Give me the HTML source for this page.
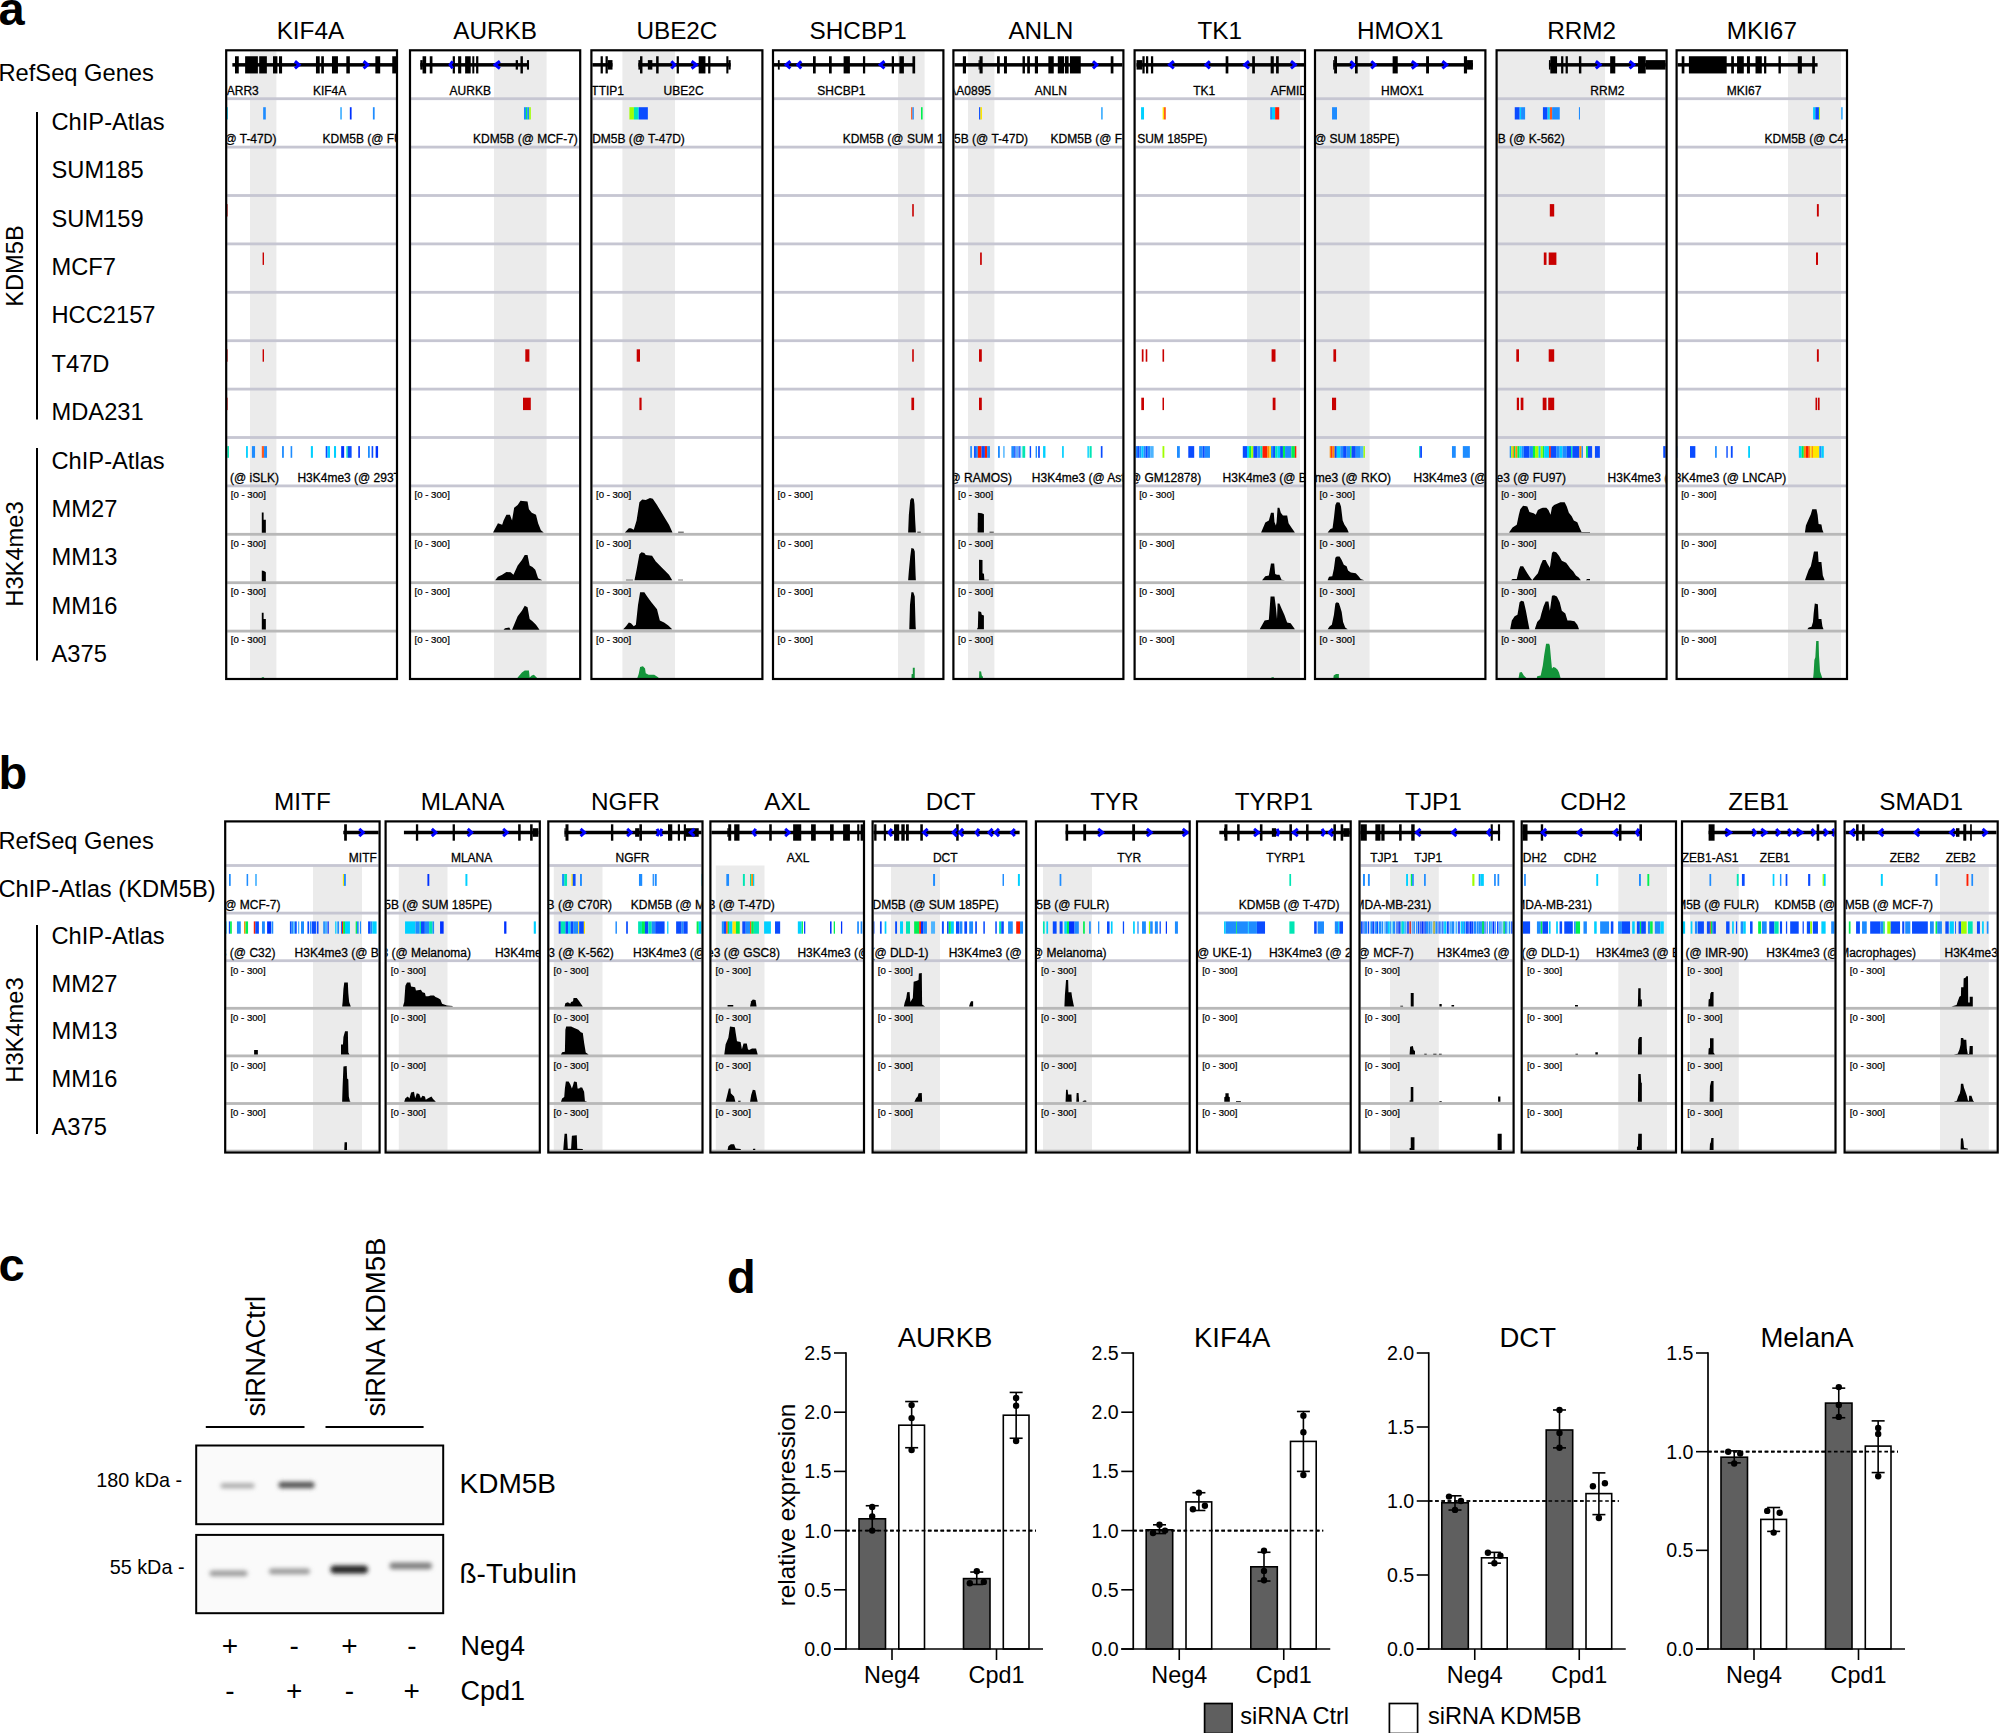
<!DOCTYPE html>
<html><head><meta charset="utf-8"><title>Figure</title><style>
html,body{margin:0;padding:0;background:#fff;}
body{width:2000px;height:1733px;overflow:hidden;}
svg{display:block;}
</style></head><body>
<svg width="2000" height="1733" viewBox="0 0 2000 1733" font-family="Liberation Sans, Arial, Helvetica, sans-serif">
<rect x="0" y="0" width="2000" height="1733" fill="#fff" />
<defs>
<clipPath id="ca0"><rect x="227.2" y="51.3" width="168.8" height="626.7"/></clipPath>
<clipPath id="ca1"><rect x="411" y="51.3" width="168.2" height="626.7"/></clipPath>
<clipPath id="ca2"><rect x="592.4" y="51.3" width="169" height="626.7"/></clipPath>
<clipPath id="ca3"><rect x="774" y="51.3" width="168.4" height="626.7"/></clipPath>
<clipPath id="ca4"><rect x="954.4" y="51.3" width="168" height="626.7"/></clipPath>
<clipPath id="ca5"><rect x="1135.6" y="51.3" width="168.4" height="626.7"/></clipPath>
<clipPath id="ca6"><rect x="1316" y="51.3" width="168.4" height="626.7"/></clipPath>
<clipPath id="ca7"><rect x="1497.6" y="51.3" width="168" height="626.7"/></clipPath>
<clipPath id="ca8"><rect x="1677.6" y="51.3" width="168.4" height="626.7"/></clipPath>
<clipPath id="cb0"><rect x="226.2" y="822.4" width="152.4" height="329.1"/></clipPath>
<clipPath id="cb1"><rect x="386.6" y="822.4" width="152.2" height="329.1"/></clipPath>
<clipPath id="cb2"><rect x="549.3" y="822.4" width="152.2" height="329.1"/></clipPath>
<clipPath id="cb3"><rect x="711.4" y="822.4" width="151.6" height="329.1"/></clipPath>
<clipPath id="cb4"><rect x="873.6" y="822.4" width="151.7" height="329.1"/></clipPath>
<clipPath id="cb5"><rect x="1036.9" y="822.4" width="151.8" height="329.1"/></clipPath>
<clipPath id="cb6"><rect x="1198" y="822.4" width="151.7" height="329.1"/></clipPath>
<clipPath id="cb7"><rect x="1360.5" y="822.4" width="152.1" height="329.1"/></clipPath>
<clipPath id="cb8"><rect x="1522.7" y="822.4" width="152.3" height="329.1"/></clipPath>
<clipPath id="cb9"><rect x="1683" y="822.4" width="151.5" height="329.1"/></clipPath>
<clipPath id="cb10"><rect x="1845.6" y="822.4" width="151.1" height="329.1"/></clipPath>
</defs>
<text x="-1.5" y="25" font-size="47" font-weight="bold" >a</text>
<text x="-1.5" y="789" font-size="47" font-weight="bold" >b</text>
<text x="-1.5" y="1281" font-size="47" font-weight="bold" >c</text>
<text x="727" y="1293" font-size="47" font-weight="bold" >d</text>
<g clip-path="url(#ca0)">
<rect x="250" y="49.3" width="26.4" height="630.7" fill="#ebebeb" />
<rect x="225.2" y="97.3" width="172.8" height="2.8" fill="#c6c6d2" />
<rect x="225.2" y="145.7" width="172.8" height="2.8" fill="#c6c6d2" />
<rect x="225.2" y="194.1" width="172.8" height="2.8" fill="#c6c6d2" />
<rect x="225.2" y="242.5" width="172.8" height="2.8" fill="#c6c6d2" />
<rect x="225.2" y="290.9" width="172.8" height="2.8" fill="#c6c6d2" />
<rect x="225.2" y="339.3" width="172.8" height="2.8" fill="#c6c6d2" />
<rect x="225.2" y="387.7" width="172.8" height="2.8" fill="#c6c6d2" />
<rect x="225.2" y="436.1" width="172.8" height="2.8" fill="#c6c6d2" />
<rect x="225.2" y="484.5" width="172.8" height="2.8" fill="#c6c6d2" />
<rect x="225.2" y="532.9" width="172.8" height="2.8" fill="#b8b8b8" />
<rect x="225.2" y="581.3" width="172.8" height="2.8" fill="#b8b8b8" />
<rect x="225.2" y="629.7" width="172.8" height="2.8" fill="#b8b8b8" />
<rect x="232.36" y="63.1" width="165.64" height="3.5" fill="#000" />
<rect x="235" y="56.25" width="3.78" height="17.2" fill="#000" />
<rect x="245.12" y="56.25" width="12.76" height="17.2" fill="#000" />
<rect x="259.2" y="56.25" width="7.66" height="17.2" fill="#000" />
<rect x="273.01" y="56.25" width="4.4" height="17.2" fill="#000" />
<rect x="279" y="56.25" width="3.08" height="17.2" fill="#000" />
<rect x="315.96" y="56.25" width="3.78" height="17.2" fill="#000" />
<rect x="321.24" y="56.25" width="2.64" height="17.2" fill="#000" />
<rect x="331.97" y="56.25" width="5.98" height="17.2" fill="#000" />
<rect x="346.32" y="56.25" width="3.52" height="17.2" fill="#000" />
<rect x="375.36" y="56.25" width="4.84" height="17.2" fill="#000" />
<rect x="392.25" y="56.25" width="4.22" height="17.2" fill="#000" />
<polyline points="294.96,61.25 299.12,64.85 294.96,68.45" fill="none" stroke="#0000ff" stroke-width="3.0" stroke-linejoin="miter"/>
<polyline points="363.6,61.25 367.76,64.85 363.6,68.45" fill="none" stroke="#0000ff" stroke-width="3.0" stroke-linejoin="miter"/>
<text x="258.76" y="95.2" font-size="12" text-anchor="end" stroke="#000" stroke-width="0.28">ARR3</text>
<text x="312.88" y="95.2" font-size="12" stroke="#000" stroke-width="0.28">KIF4A</text>
<rect x="226.2" y="107.2" width="1.76" height="12.3" fill="#00d0ff" />
<rect x="263.16" y="107.2" width="2.64" height="12.3" fill="#1e8cff" />
<rect x="340.16" y="107.2" width="1.76" height="12.3" fill="#4cb4ff" />
<rect x="349.84" y="107.2" width="1.76" height="12.3" fill="#0032ff" />
<rect x="372.89" y="107.2" width="1.76" height="12.3" fill="#1e8cff" />
<text x="276.4" y="143.3" font-size="12" text-anchor="end" stroke="#000" stroke-width="0.28">KDM5B (@ T-47D)</text>
<text x="322.6" y="143.3" font-size="12" stroke="#000" stroke-width="0.28">KDM5B (@ FULR)</text>
<rect x="226" y="204.1" width="1.7" height="12.4" fill="#c80000" />
<rect x="262.6" y="252.5" width="1.4" height="12.4" fill="#c80000" />
<rect x="226" y="349.3" width="1.7" height="12.4" fill="#c80000" />
<rect x="262.6" y="349.3" width="1.4" height="12.4" fill="#c80000" />
<rect x="226" y="397.7" width="1.7" height="12.4" fill="#c80000" />
<rect x="227.15" y="446.1" width="1.8" height="11.7" fill="#00e6b4" />
<rect x="246.05" y="446.1" width="1.8" height="11.7" fill="#00d0ff" />
<rect x="251.9" y="446.1" width="3.15" height="11.7" fill="#1e8cff" />
<rect x="261.8" y="446.1" width="2.25" height="11.7" fill="#ff5a1e" />
<rect x="264.05" y="446.1" width="2.97" height="11.7" fill="#1e8cff" />
<rect x="282.05" y="446.1" width="1.8" height="11.7" fill="#1e8cff" />
<rect x="290.6" y="446.1" width="1.62" height="11.7" fill="#1e8cff" />
<rect x="310.85" y="446.1" width="2.07" height="11.7" fill="#00d0ff" />
<rect x="325.7" y="446.1" width="1.8" height="11.7" fill="#0a4cff" />
<rect x="327.5" y="446.1" width="2.52" height="11.7" fill="#00d0ff" />
<rect x="333.98" y="446.1" width="2.07" height="11.7" fill="#00d0ff" />
<rect x="341.18" y="446.1" width="2.97" height="11.7" fill="#0032ff" />
<rect x="346.4" y="446.1" width="1.35" height="11.7" fill="#00e6b4" />
<rect x="347.75" y="446.1" width="3.87" height="11.7" fill="#0a4cff" />
<rect x="358.28" y="446.1" width="1.62" height="11.7" fill="#0032ff" />
<rect x="368" y="446.1" width="1.8" height="11.7" fill="#1e8cff" />
<rect x="371.6" y="446.1" width="1.62" height="11.7" fill="#0a4cff" />
<rect x="375.65" y="446.1" width="2.43" height="11.7" fill="#0032ff" />
<text x="278.9" y="482.3" font-size="12" text-anchor="end" stroke="#000" stroke-width="0.28">H3K4me3 (@ iSLK)</text>
<text x="297.4" y="482.3" font-size="12" stroke="#000" stroke-width="0.28">H3K4me3 (@ 293T)</text>
<text x="230.8" y="498.1" font-size="9.6" stroke="#000" stroke-width="0.22">[0 - 300]</text>
<text x="230.8" y="546.5" font-size="9.6" stroke="#000" stroke-width="0.22">[0 - 300]</text>
<text x="230.8" y="594.9" font-size="9.6" stroke="#000" stroke-width="0.22">[0 - 300]</text>
<text x="230.8" y="643.3" font-size="9.6" stroke="#000" stroke-width="0.22">[0 - 300]</text>
</g>
<g clip-path="url(#ca1)">
<rect x="494" y="49.3" width="52.6" height="630.7" fill="#ebebeb" />
<rect x="409" y="97.3" width="172.2" height="2.8" fill="#c6c6d2" />
<rect x="409" y="145.7" width="172.2" height="2.8" fill="#c6c6d2" />
<rect x="409" y="194.1" width="172.2" height="2.8" fill="#c6c6d2" />
<rect x="409" y="242.5" width="172.2" height="2.8" fill="#c6c6d2" />
<rect x="409" y="290.9" width="172.2" height="2.8" fill="#c6c6d2" />
<rect x="409" y="339.3" width="172.2" height="2.8" fill="#c6c6d2" />
<rect x="409" y="387.7" width="172.2" height="2.8" fill="#c6c6d2" />
<rect x="409" y="436.1" width="172.2" height="2.8" fill="#c6c6d2" />
<rect x="409" y="484.5" width="172.2" height="2.8" fill="#c6c6d2" />
<rect x="409" y="532.9" width="172.2" height="2.8" fill="#b8b8b8" />
<rect x="409" y="581.3" width="172.2" height="2.8" fill="#b8b8b8" />
<rect x="409" y="629.7" width="172.2" height="2.8" fill="#b8b8b8" />
<rect x="420.3" y="63.1" width="108.72" height="3.5" fill="#000" />
<rect x="420.3" y="60.1" width="2.43" height="9.5" fill="#000" />
<rect x="422.55" y="56.25" width="3.6" height="17.2" fill="#000" />
<rect x="429.75" y="56.25" width="2.7" height="17.2" fill="#000" />
<rect x="452.7" y="56.25" width="2.25" height="17.2" fill="#000" />
<rect x="458.1" y="56.25" width="3.15" height="17.2" fill="#000" />
<rect x="465.12" y="56.25" width="5.58" height="17.2" fill="#000" />
<rect x="472.32" y="56.25" width="1.98" height="17.2" fill="#000" />
<rect x="476.1" y="56.25" width="2.25" height="17.2" fill="#000" />
<rect x="515.7" y="60.1" width="2.25" height="9.5" fill="#000" />
<rect x="520.47" y="56.25" width="2.43" height="17.2" fill="#000" />
<rect x="526.95" y="60.1" width="2.07" height="9.5" fill="#000" />
<polyline points="452.6,61.25 450.1,64.85 452.6,68.45" fill="none" stroke="#0000ff" stroke-width="3.0" stroke-linejoin="miter"/>
<polyline points="499.85,61.25 495.1,64.85 499.85,68.45" fill="none" stroke="#0000ff" stroke-width="3.0" stroke-linejoin="miter"/>
<text x="449.55" y="95.2" font-size="12" stroke="#000" stroke-width="0.28">AURKB</text>
<rect x="523.98" y="107.2" width="2.07" height="12.3" fill="#1e8cff" />
<rect x="526.05" y="107.2" width="1.17" height="12.3" fill="#00f050" />
<rect x="527.22" y="107.2" width="1.98" height="12.3" fill="#1e8cff" />
<rect x="529.2" y="107.2" width="1.62" height="12.3" fill="#a0ff00" />
<text x="473" y="143.3" font-size="12" stroke="#000" stroke-width="0.28">KDM5B (@ MCF-7)</text>
<rect x="525.3" y="349.3" width="4.1" height="12.4" fill="#c80000" />
<rect x="523" y="397.7" width="7.8" height="12.4" fill="#c80000" />
<text x="414.6" y="498.1" font-size="9.6" stroke="#000" stroke-width="0.22">[0 - 300]</text>
<text x="414.6" y="546.5" font-size="9.6" stroke="#000" stroke-width="0.22">[0 - 300]</text>
<text x="414.6" y="594.9" font-size="9.6" stroke="#000" stroke-width="0.22">[0 - 300]</text>
<text x="414.6" y="643.3" font-size="9.6" stroke="#000" stroke-width="0.22">[0 - 300]</text>
</g>
<g clip-path="url(#ca2)">
<rect x="622.4" y="49.3" width="52.6" height="630.7" fill="#ebebeb" />
<rect x="590.4" y="97.3" width="173" height="2.8" fill="#c6c6d2" />
<rect x="590.4" y="145.7" width="173" height="2.8" fill="#c6c6d2" />
<rect x="590.4" y="194.1" width="173" height="2.8" fill="#c6c6d2" />
<rect x="590.4" y="242.5" width="173" height="2.8" fill="#c6c6d2" />
<rect x="590.4" y="290.9" width="173" height="2.8" fill="#c6c6d2" />
<rect x="590.4" y="339.3" width="173" height="2.8" fill="#c6c6d2" />
<rect x="590.4" y="387.7" width="173" height="2.8" fill="#c6c6d2" />
<rect x="590.4" y="436.1" width="173" height="2.8" fill="#c6c6d2" />
<rect x="590.4" y="484.5" width="173" height="2.8" fill="#c6c6d2" />
<rect x="590.4" y="532.9" width="173" height="2.8" fill="#b8b8b8" />
<rect x="590.4" y="581.3" width="173" height="2.8" fill="#b8b8b8" />
<rect x="590.4" y="629.7" width="173" height="2.8" fill="#b8b8b8" />
<rect x="590.4" y="63.1" width="22.08" height="3.5" fill="#000" />
<rect x="638.4" y="63.1" width="92.25" height="3.5" fill="#000" />
<rect x="600.6" y="56.25" width="2.25" height="17.2" fill="#000" />
<rect x="605.55" y="56.25" width="2.25" height="17.2" fill="#000" />
<rect x="607.8" y="60.1" width="4.68" height="9.5" fill="#000" />
<rect x="638.4" y="60.1" width="1.62" height="9.5" fill="#000" />
<rect x="640.02" y="56.25" width="2.43" height="17.2" fill="#000" />
<rect x="647.85" y="60.1" width="4.5" height="9.5" fill="#000" />
<rect x="656.13" y="56.25" width="2.52" height="17.2" fill="#000" />
<rect x="676.65" y="56.25" width="2.25" height="17.2" fill="#000" />
<rect x="698.7" y="56.25" width="6.75" height="17.2" fill="#000" />
<rect x="708.15" y="56.25" width="2.25" height="17.2" fill="#000" />
<rect x="726.33" y="56.25" width="2.07" height="17.2" fill="#000" />
<rect x="728.4" y="60.1" width="2.25" height="9.5" fill="#000" />
<polyline points="671.35,61.25 674.75,64.85 671.35,68.45" fill="none" stroke="#0000ff" stroke-width="3.0" stroke-linejoin="miter"/>
<polyline points="691.6,61.25 696.35,64.85 691.6,68.45" fill="none" stroke="#0000ff" stroke-width="3.0" stroke-linejoin="miter"/>
<text x="624" y="95.2" font-size="12" text-anchor="end" stroke="#000" stroke-width="0.28">DNTTIP1</text>
<text x="663.6" y="95.2" font-size="12" stroke="#000" stroke-width="0.28">UBE2C</text>
<rect x="629.4" y="107.2" width="4.5" height="12.3" fill="#a0ff00" />
<rect x="633.9" y="107.2" width="4.05" height="12.3" fill="#00e6b4" />
<rect x="637.95" y="107.2" width="0.9" height="12.3" fill="#00d0ff" />
<rect x="638.85" y="107.2" width="9" height="12.3" fill="#0a4cff" />
<text x="684.8" y="143.3" font-size="12" text-anchor="end" stroke="#000" stroke-width="0.28">KDM5B (@ T-47D)</text>
<rect x="636.7" y="349.3" width="3.3" height="12.4" fill="#c80000" />
<rect x="639.4" y="397.7" width="2.2" height="12.4" fill="#c80000" />
<text x="596" y="498.1" font-size="9.6" stroke="#000" stroke-width="0.22">[0 - 300]</text>
<text x="596" y="546.5" font-size="9.6" stroke="#000" stroke-width="0.22">[0 - 300]</text>
<text x="596" y="594.9" font-size="9.6" stroke="#000" stroke-width="0.22">[0 - 300]</text>
<text x="596" y="643.3" font-size="9.6" stroke="#000" stroke-width="0.22">[0 - 300]</text>
</g>
<g clip-path="url(#ca3)">
<rect x="898" y="49.3" width="26.6" height="630.7" fill="#ebebeb" />
<rect x="772" y="97.3" width="172.4" height="2.8" fill="#c6c6d2" />
<rect x="772" y="145.7" width="172.4" height="2.8" fill="#c6c6d2" />
<rect x="772" y="194.1" width="172.4" height="2.8" fill="#c6c6d2" />
<rect x="772" y="242.5" width="172.4" height="2.8" fill="#c6c6d2" />
<rect x="772" y="290.9" width="172.4" height="2.8" fill="#c6c6d2" />
<rect x="772" y="339.3" width="172.4" height="2.8" fill="#c6c6d2" />
<rect x="772" y="387.7" width="172.4" height="2.8" fill="#c6c6d2" />
<rect x="772" y="436.1" width="172.4" height="2.8" fill="#c6c6d2" />
<rect x="772" y="484.5" width="172.4" height="2.8" fill="#c6c6d2" />
<rect x="772" y="532.9" width="172.4" height="2.8" fill="#b8b8b8" />
<rect x="772" y="581.3" width="172.4" height="2.8" fill="#b8b8b8" />
<rect x="772" y="629.7" width="172.4" height="2.8" fill="#b8b8b8" />
<rect x="772" y="63.1" width="142.88" height="3.5" fill="#000" />
<rect x="777.9" y="60.1" width="1.8" height="9.5" fill="#000" />
<rect x="813" y="56.25" width="2.7" height="17.2" fill="#000" />
<rect x="829.02" y="56.25" width="2.7" height="17.2" fill="#000" />
<rect x="843.6" y="56.25" width="6.3" height="17.2" fill="#000" />
<rect x="862.95" y="56.25" width="2.25" height="17.2" fill="#000" />
<rect x="891.75" y="56.25" width="2.25" height="17.2" fill="#000" />
<rect x="899.4" y="56.25" width="4.5" height="17.2" fill="#000" />
<rect x="912.45" y="56.25" width="2.7" height="17.2" fill="#000" />
<polyline points="790.4,61.25 786.1,64.85 790.4,68.45" fill="none" stroke="#0000ff" stroke-width="3.0" stroke-linejoin="miter"/>
<polyline points="801.2,61.25 797.8,64.85 801.2,68.45" fill="none" stroke="#0000ff" stroke-width="3.0" stroke-linejoin="miter"/>
<polyline points="884.45,61.25 880.15,64.85 884.45,68.45" fill="none" stroke="#0000ff" stroke-width="3.0" stroke-linejoin="miter"/>
<text x="817.32" y="95.2" font-size="12" stroke="#000" stroke-width="0.28">SHCBP1</text>
<rect x="911.1" y="107.2" width="1.35" height="12.3" fill="#ff5a1e" />
<rect x="912.45" y="107.2" width="1.35" height="12.3" fill="#1e8cff" />
<rect x="921" y="107.2" width="1.62" height="12.3" fill="#00f050" />
<text x="842.7" y="143.3" font-size="12" stroke="#000" stroke-width="0.28">KDM5B (@ SUM 185PE)</text>
<rect x="912.2" y="204.1" width="1.6" height="12.4" fill="#c80000" />
<rect x="912.2" y="349.3" width="1.6" height="12.4" fill="#c80000" />
<rect x="911.4" y="397.7" width="2.7" height="12.4" fill="#c80000" />
<text x="777.6" y="498.1" font-size="9.6" stroke="#000" stroke-width="0.22">[0 - 300]</text>
<text x="777.6" y="546.5" font-size="9.6" stroke="#000" stroke-width="0.22">[0 - 300]</text>
<text x="777.6" y="594.9" font-size="9.6" stroke="#000" stroke-width="0.22">[0 - 300]</text>
<text x="777.6" y="643.3" font-size="9.6" stroke="#000" stroke-width="0.22">[0 - 300]</text>
</g>
<g clip-path="url(#ca4)">
<rect x="968" y="49.3" width="26.4" height="630.7" fill="#ebebeb" />
<rect x="952.4" y="97.3" width="172" height="2.8" fill="#c6c6d2" />
<rect x="952.4" y="145.7" width="172" height="2.8" fill="#c6c6d2" />
<rect x="952.4" y="194.1" width="172" height="2.8" fill="#c6c6d2" />
<rect x="952.4" y="242.5" width="172" height="2.8" fill="#c6c6d2" />
<rect x="952.4" y="290.9" width="172" height="2.8" fill="#c6c6d2" />
<rect x="952.4" y="339.3" width="172" height="2.8" fill="#c6c6d2" />
<rect x="952.4" y="387.7" width="172" height="2.8" fill="#c6c6d2" />
<rect x="952.4" y="436.1" width="172" height="2.8" fill="#c6c6d2" />
<rect x="952.4" y="484.5" width="172" height="2.8" fill="#c6c6d2" />
<rect x="952.4" y="532.9" width="172" height="2.8" fill="#b8b8b8" />
<rect x="952.4" y="581.3" width="172" height="2.8" fill="#b8b8b8" />
<rect x="952.4" y="629.7" width="172" height="2.8" fill="#b8b8b8" />
<rect x="952.4" y="63.1" width="172" height="3.5" fill="#000" />
<rect x="962.85" y="56.25" width="3.15" height="17.2" fill="#000" />
<rect x="978.6" y="60.1" width="1.08" height="9.5" fill="#000" />
<rect x="979.5" y="56.25" width="3.15" height="17.2" fill="#000" />
<rect x="997.05" y="56.25" width="2.7" height="17.2" fill="#000" />
<rect x="1003.98" y="56.25" width="2.97" height="17.2" fill="#000" />
<rect x="1022.52" y="56.25" width="2.43" height="17.2" fill="#000" />
<rect x="1027.2" y="56.25" width="2.7" height="17.2" fill="#000" />
<rect x="1034.85" y="56.25" width="3.15" height="17.2" fill="#000" />
<rect x="1048.35" y="56.25" width="5.4" height="17.2" fill="#000" />
<rect x="1057.8" y="56.25" width="6.3" height="17.2" fill="#000" />
<rect x="1065" y="56.25" width="3.6" height="17.2" fill="#000" />
<rect x="1069.95" y="56.25" width="10.8" height="17.2" fill="#000" />
<rect x="1110.72" y="56.25" width="2.7" height="17.2" fill="#000" />
<polyline points="1093,61.25 1096.85,64.85 1093,68.45" fill="none" stroke="#0000ff" stroke-width="3.0" stroke-linejoin="miter"/>
<text x="991.02" y="95.2" font-size="12" text-anchor="end" stroke="#000" stroke-width="0.28">KIAA0895</text>
<text x="1034.85" y="95.2" font-size="12" stroke="#000" stroke-width="0.28">ANLN</text>
<rect x="979.05" y="107.2" width="1.35" height="12.3" fill="#0a4cff" />
<rect x="980.4" y="107.2" width="1.62" height="12.3" fill="#ffe600" />
<rect x="1101" y="107.2" width="1.8" height="12.3" fill="#4cb4ff" />
<text x="1028.1" y="143.3" font-size="12" text-anchor="end" stroke="#000" stroke-width="0.28">KDM5B (@ T-47D)</text>
<text x="1050.6" y="143.3" font-size="12" stroke="#000" stroke-width="0.28">KDM5B (@ FULR)</text>
<rect x="980.1" y="252.5" width="1.7" height="12.4" fill="#c80000" />
<rect x="979" y="349.3" width="2.8" height="12.4" fill="#c80000" />
<rect x="979" y="397.7" width="2.8" height="12.4" fill="#c80000" />
<rect x="951.1" y="446.1" width="0.85" height="11.7" fill="#1e8cff" />
<rect x="970.25" y="446.1" width="1.69" height="11.7" fill="#1e8cff" />
<rect x="974.06" y="446.1" width="1.83" height="11.7" fill="#0a4cff" />
<rect x="975.89" y="446.1" width="1.97" height="11.7" fill="#1e8cff" />
<rect x="977.86" y="446.1" width="3.66" height="11.7" fill="#ff1e00" />
<rect x="981.52" y="446.1" width="3.38" height="11.7" fill="#0a4cff" />
<rect x="984.9" y="446.1" width="2.25" height="11.7" fill="#ff1e00" />
<rect x="987.15" y="446.1" width="2.82" height="11.7" fill="#1e8cff" />
<rect x="998" y="446.1" width="1.83" height="11.7" fill="#1e8cff" />
<rect x="1003.21" y="446.1" width="1.41" height="11.7" fill="#4cb4ff" />
<rect x="1011.38" y="446.1" width="2.82" height="11.7" fill="#1e8cff" />
<rect x="1014.2" y="446.1" width="1.41" height="11.7" fill="#0a4cff" />
<rect x="1016.31" y="446.1" width="1.41" height="11.7" fill="#1e8cff" />
<rect x="1018.42" y="446.1" width="1.41" height="11.7" fill="#0a4cff" />
<rect x="1020.11" y="446.1" width="1.13" height="11.7" fill="#4cb4ff" />
<rect x="1022.37" y="446.1" width="2.82" height="11.7" fill="#00e6b4" />
<rect x="1029.69" y="446.1" width="1.41" height="11.7" fill="#0a4cff" />
<rect x="1035.61" y="446.1" width="1.41" height="11.7" fill="#1e8cff" />
<rect x="1038.14" y="446.1" width="1.69" height="11.7" fill="#0a4cff" />
<rect x="1043.07" y="446.1" width="2.39" height="11.7" fill="#00d0ff" />
<rect x="1062.08" y="446.1" width="1.69" height="11.7" fill="#00d0ff" />
<rect x="1087.44" y="446.1" width="1.41" height="11.7" fill="#00d0ff" />
<rect x="1089.55" y="446.1" width="2.11" height="11.7" fill="#00e6b4" />
<rect x="1100.82" y="446.1" width="1.69" height="11.7" fill="#0a4cff" />
<text x="1012.1" y="482.3" font-size="12" text-anchor="end" stroke="#000" stroke-width="0.28">H3K4me3 (@ RAMOS)</text>
<text x="1031.8" y="482.3" font-size="12" stroke="#000" stroke-width="0.28">H3K4me3 (@ Astrocytes)</text>
<text x="958" y="498.1" font-size="9.6" stroke="#000" stroke-width="0.22">[0 - 300]</text>
<text x="958" y="546.5" font-size="9.6" stroke="#000" stroke-width="0.22">[0 - 300]</text>
<text x="958" y="594.9" font-size="9.6" stroke="#000" stroke-width="0.22">[0 - 300]</text>
<text x="958" y="643.3" font-size="9.6" stroke="#000" stroke-width="0.22">[0 - 300]</text>
</g>
<g clip-path="url(#ca5)">
<rect x="1247" y="49.3" width="53" height="630.7" fill="#ebebeb" />
<rect x="1133.6" y="97.3" width="172.4" height="2.8" fill="#c6c6d2" />
<rect x="1133.6" y="145.7" width="172.4" height="2.8" fill="#c6c6d2" />
<rect x="1133.6" y="194.1" width="172.4" height="2.8" fill="#c6c6d2" />
<rect x="1133.6" y="242.5" width="172.4" height="2.8" fill="#c6c6d2" />
<rect x="1133.6" y="290.9" width="172.4" height="2.8" fill="#c6c6d2" />
<rect x="1133.6" y="339.3" width="172.4" height="2.8" fill="#c6c6d2" />
<rect x="1133.6" y="387.7" width="172.4" height="2.8" fill="#c6c6d2" />
<rect x="1133.6" y="436.1" width="172.4" height="2.8" fill="#c6c6d2" />
<rect x="1133.6" y="484.5" width="172.4" height="2.8" fill="#c6c6d2" />
<rect x="1133.6" y="532.9" width="172.4" height="2.8" fill="#b8b8b8" />
<rect x="1133.6" y="581.3" width="172.4" height="2.8" fill="#b8b8b8" />
<rect x="1133.6" y="629.7" width="172.4" height="2.8" fill="#b8b8b8" />
<rect x="1136.55" y="63.1" width="169.45" height="3.5" fill="#000" />
<rect x="1136.55" y="60.1" width="5.85" height="9.5" fill="#000" />
<rect x="1142.4" y="56.25" width="2.25" height="17.2" fill="#000" />
<rect x="1146" y="56.25" width="2.25" height="17.2" fill="#000" />
<rect x="1150.95" y="56.25" width="2.25" height="17.2" fill="#000" />
<rect x="1225.65" y="56.25" width="2.7" height="17.2" fill="#000" />
<rect x="1252.2" y="56.25" width="2.7" height="17.2" fill="#000" />
<rect x="1270.65" y="56.25" width="3.15" height="17.2" fill="#000" />
<rect x="1276.05" y="56.25" width="2.7" height="17.2" fill="#000" />
<polyline points="1173.8,61.25 1169.5,64.85 1173.8,68.45" fill="none" stroke="#0000ff" stroke-width="3.0" stroke-linejoin="miter"/>
<polyline points="1209.8,61.25 1205.95,64.85 1209.8,68.45" fill="none" stroke="#0000ff" stroke-width="3.0" stroke-linejoin="miter"/>
<polyline points="1248.95,61.25 1244.65,64.85 1248.95,68.45" fill="none" stroke="#0000ff" stroke-width="3.0" stroke-linejoin="miter"/>
<polyline points="1291,61.25 1295.3,64.85 1291,68.45" fill="none" stroke="#0000ff" stroke-width="3.0" stroke-linejoin="miter"/>
<text x="1193.25" y="95.2" font-size="12" stroke="#000" stroke-width="0.28">TK1</text>
<text x="1270.65" y="95.2" font-size="12" stroke="#000" stroke-width="0.28">AFMID</text>
<rect x="1141.05" y="107.2" width="2.97" height="12.3" fill="#00d0ff" />
<rect x="1162.65" y="107.2" width="1.35" height="12.3" fill="#ffe600" />
<rect x="1164" y="107.2" width="1.8" height="12.3" fill="#ff5a1e" />
<rect x="1270.2" y="107.2" width="1.8" height="12.3" fill="#1e8cff" />
<rect x="1272" y="107.2" width="3.15" height="12.3" fill="#00d0ff" />
<rect x="1275.15" y="107.2" width="4.05" height="12.3" fill="#ff1e00" />
<text x="1207.2" y="143.3" font-size="12" text-anchor="end" stroke="#000" stroke-width="0.28">KDM5B (@ SUM 185PE)</text>
<rect x="1141.8" y="349.3" width="1.7" height="12.4" fill="#c80000" />
<rect x="1145.7" y="349.3" width="1.6" height="12.4" fill="#c80000" />
<rect x="1162.5" y="349.3" width="1.6" height="12.4" fill="#c80000" />
<rect x="1271.6" y="349.3" width="3.9" height="12.4" fill="#c80000" />
<rect x="1141.3" y="397.7" width="2.7" height="12.4" fill="#c80000" />
<rect x="1162.5" y="397.7" width="1.5" height="12.4" fill="#c80000" />
<rect x="1272.7" y="397.7" width="2.8" height="12.4" fill="#c80000" />
<rect x="1135.04" y="446.1" width="2.11" height="11.7" fill="#1e8cff" />
<rect x="1137.15" y="446.1" width="2.11" height="11.7" fill="#0a4cff" />
<rect x="1139.27" y="446.1" width="2.11" height="11.7" fill="#1e8cff" />
<rect x="1141.38" y="446.1" width="2.11" height="11.7" fill="#00d0ff" />
<rect x="1143.49" y="446.1" width="2.11" height="11.7" fill="#1e8cff" />
<rect x="1145.61" y="446.1" width="2.11" height="11.7" fill="#0a4cff" />
<rect x="1147.72" y="446.1" width="2.82" height="11.7" fill="#1e8cff" />
<rect x="1150.54" y="446.1" width="3.1" height="11.7" fill="#4cb4ff" />
<rect x="1162.51" y="446.1" width="1.83" height="11.7" fill="#a0ff00" />
<rect x="1177.01" y="446.1" width="2.82" height="11.7" fill="#1e8cff" />
<rect x="1188.28" y="446.1" width="5.92" height="11.7" fill="#0a4cff" />
<rect x="1199.13" y="446.1" width="3.52" height="11.7" fill="#1e8cff" />
<rect x="1202.65" y="446.1" width="2.11" height="11.7" fill="#0a4cff" />
<rect x="1204.76" y="446.1" width="5.21" height="11.7" fill="#1e8cff" />
<rect x="1242.79" y="446.1" width="4.23" height="11.7" fill="#0a4cff" />
<rect x="1247.01" y="446.1" width="2.11" height="11.7" fill="#00d0ff" />
<rect x="1249.13" y="446.1" width="2.11" height="11.7" fill="#00f050" />
<rect x="1251.24" y="446.1" width="2.11" height="11.7" fill="#a0ff00" />
<rect x="1253.35" y="446.1" width="3.94" height="11.7" fill="#0a4cff" />
<rect x="1257.3" y="446.1" width="3.1" height="11.7" fill="#1e8cff" />
<rect x="1260.39" y="446.1" width="2.11" height="11.7" fill="#00e6b4" />
<rect x="1262.51" y="446.1" width="4.93" height="11.7" fill="#ff1e00" />
<rect x="1267.44" y="446.1" width="2.11" height="11.7" fill="#ff8c00" />
<rect x="1269.55" y="446.1" width="1.41" height="11.7" fill="#ffe600" />
<rect x="1270.96" y="446.1" width="2.11" height="11.7" fill="#1e8cff" />
<rect x="1273.07" y="446.1" width="2.11" height="11.7" fill="#0a4cff" />
<rect x="1275.18" y="446.1" width="2.11" height="11.7" fill="#00e6b4" />
<rect x="1277.3" y="446.1" width="2.82" height="11.7" fill="#00d0ff" />
<rect x="1280.11" y="446.1" width="2.82" height="11.7" fill="#0a4cff" />
<rect x="1282.93" y="446.1" width="2.11" height="11.7" fill="#00f050" />
<rect x="1285.04" y="446.1" width="6.34" height="11.7" fill="#1e8cff" />
<rect x="1291.38" y="446.1" width="3.52" height="11.7" fill="#00f050" />
<rect x="1294.9" y="446.1" width="1.41" height="11.7" fill="#ff1e00" />
<text x="1201.2" y="482.3" font-size="12" text-anchor="end" stroke="#000" stroke-width="0.28">H3K4me3 (@ GM12878)</text>
<text x="1222.6" y="482.3" font-size="12" stroke="#000" stroke-width="0.28">H3K4me3 (@ BJ)</text>
<text x="1139.2" y="498.1" font-size="9.6" stroke="#000" stroke-width="0.22">[0 - 300]</text>
<text x="1139.2" y="546.5" font-size="9.6" stroke="#000" stroke-width="0.22">[0 - 300]</text>
<text x="1139.2" y="594.9" font-size="9.6" stroke="#000" stroke-width="0.22">[0 - 300]</text>
<text x="1139.2" y="643.3" font-size="9.6" stroke="#000" stroke-width="0.22">[0 - 300]</text>
</g>
<g clip-path="url(#ca6)">
<rect x="1314" y="49.3" width="55.6" height="630.7" fill="#ebebeb" />
<rect x="1314" y="97.3" width="172.4" height="2.8" fill="#c6c6d2" />
<rect x="1314" y="145.7" width="172.4" height="2.8" fill="#c6c6d2" />
<rect x="1314" y="194.1" width="172.4" height="2.8" fill="#c6c6d2" />
<rect x="1314" y="242.5" width="172.4" height="2.8" fill="#c6c6d2" />
<rect x="1314" y="290.9" width="172.4" height="2.8" fill="#c6c6d2" />
<rect x="1314" y="339.3" width="172.4" height="2.8" fill="#c6c6d2" />
<rect x="1314" y="387.7" width="172.4" height="2.8" fill="#c6c6d2" />
<rect x="1314" y="436.1" width="172.4" height="2.8" fill="#c6c6d2" />
<rect x="1314" y="484.5" width="172.4" height="2.8" fill="#c6c6d2" />
<rect x="1314" y="532.9" width="172.4" height="2.8" fill="#b8b8b8" />
<rect x="1314" y="581.3" width="172.4" height="2.8" fill="#b8b8b8" />
<rect x="1314" y="629.7" width="172.4" height="2.8" fill="#b8b8b8" />
<rect x="1333.4" y="63.1" width="139.5" height="3.5" fill="#000" />
<rect x="1333.22" y="60.1" width="1.08" height="9.5" fill="#000" />
<rect x="1334.12" y="56.25" width="2.88" height="17.2" fill="#000" />
<rect x="1355" y="56.25" width="2.7" height="17.2" fill="#000" />
<rect x="1392.62" y="56.25" width="5.13" height="17.2" fill="#000" />
<rect x="1426.1" y="56.25" width="2.88" height="17.2" fill="#000" />
<rect x="1463.9" y="56.25" width="3.15" height="17.2" fill="#000" />
<rect x="1467.05" y="60.1" width="5.85" height="9.5" fill="#000" />
<polyline points="1350.6,61.25 1354,64.85 1350.6,68.45" fill="none" stroke="#0000ff" stroke-width="3.0" stroke-linejoin="miter"/>
<polyline points="1371.3,61.25 1375.15,64.85 1371.3,68.45" fill="none" stroke="#0000ff" stroke-width="3.0" stroke-linejoin="miter"/>
<polyline points="1411.8,61.25 1416.55,64.85 1411.8,68.45" fill="none" stroke="#0000ff" stroke-width="3.0" stroke-linejoin="miter"/>
<polyline points="1442.4,61.25 1446.7,64.85 1442.4,68.45" fill="none" stroke="#0000ff" stroke-width="3.0" stroke-linejoin="miter"/>
<text x="1381.1" y="95.2" font-size="12" stroke="#000" stroke-width="0.28">HMOX1</text>
<rect x="1332.05" y="107.2" width="4.95" height="12.3" fill="#1e8cff" />
<text x="1399.6" y="143.3" font-size="12" text-anchor="end" stroke="#000" stroke-width="0.28">KDM5B (@ SUM 185PE)</text>
<rect x="1333.4" y="349.3" width="2.7" height="12.4" fill="#c80000" />
<rect x="1332" y="397.7" width="4.1" height="12.4" fill="#c80000" />
<rect x="1329.72" y="446.1" width="1.41" height="11.7" fill="#ff8c00" />
<rect x="1331.13" y="446.1" width="1.41" height="11.7" fill="#ff1e00" />
<rect x="1332.54" y="446.1" width="2.11" height="11.7" fill="#ff8c00" />
<rect x="1334.65" y="446.1" width="2.11" height="11.7" fill="#0a4cff" />
<rect x="1336.76" y="446.1" width="3.52" height="11.7" fill="#00d0ff" />
<rect x="1340.28" y="446.1" width="2.82" height="11.7" fill="#1e8cff" />
<rect x="1343.1" y="446.1" width="3.52" height="11.7" fill="#0a4cff" />
<rect x="1346.62" y="446.1" width="3.52" height="11.7" fill="#1e8cff" />
<rect x="1350.14" y="446.1" width="1.41" height="11.7" fill="#00f050" />
<rect x="1351.55" y="446.1" width="4.23" height="11.7" fill="#0a4cff" />
<rect x="1355.77" y="446.1" width="4.93" height="11.7" fill="#1e8cff" />
<rect x="1360.7" y="446.1" width="2.82" height="11.7" fill="#4cb4ff" />
<rect x="1363.52" y="446.1" width="1.41" height="11.7" fill="#a0ff00" />
<rect x="1419.15" y="446.1" width="0.99" height="11.7" fill="#00e6b4" />
<rect x="1420.14" y="446.1" width="1.83" height="11.7" fill="#0a4cff" />
<rect x="1451.97" y="446.1" width="3.8" height="11.7" fill="#1e8cff" />
<rect x="1462.82" y="446.1" width="7.04" height="11.7" fill="#1e8cff" />
<text x="1391" y="482.3" font-size="12" text-anchor="end" stroke="#000" stroke-width="0.28">H3K4me3 (@ RKO)</text>
<text x="1413.5" y="482.3" font-size="12" stroke="#000" stroke-width="0.28">H3K4me3 (@ Erythroblast)</text>
<text x="1319.6" y="498.1" font-size="9.6" stroke="#000" stroke-width="0.22">[0 - 300]</text>
<text x="1319.6" y="546.5" font-size="9.6" stroke="#000" stroke-width="0.22">[0 - 300]</text>
<text x="1319.6" y="594.9" font-size="9.6" stroke="#000" stroke-width="0.22">[0 - 300]</text>
<text x="1319.6" y="643.3" font-size="9.6" stroke="#000" stroke-width="0.22">[0 - 300]</text>
</g>
<g clip-path="url(#ca7)">
<rect x="1496" y="49.3" width="109" height="630.7" fill="#ebebeb" />
<rect x="1495.6" y="97.3" width="172" height="2.8" fill="#c6c6d2" />
<rect x="1495.6" y="145.7" width="172" height="2.8" fill="#c6c6d2" />
<rect x="1495.6" y="194.1" width="172" height="2.8" fill="#c6c6d2" />
<rect x="1495.6" y="242.5" width="172" height="2.8" fill="#c6c6d2" />
<rect x="1495.6" y="290.9" width="172" height="2.8" fill="#c6c6d2" />
<rect x="1495.6" y="339.3" width="172" height="2.8" fill="#c6c6d2" />
<rect x="1495.6" y="387.7" width="172" height="2.8" fill="#c6c6d2" />
<rect x="1495.6" y="436.1" width="172" height="2.8" fill="#c6c6d2" />
<rect x="1495.6" y="484.5" width="172" height="2.8" fill="#c6c6d2" />
<rect x="1495.6" y="532.9" width="172" height="2.8" fill="#b8b8b8" />
<rect x="1495.6" y="581.3" width="172" height="2.8" fill="#b8b8b8" />
<rect x="1495.6" y="629.7" width="172" height="2.8" fill="#b8b8b8" />
<rect x="1548.95" y="63.1" width="118.65" height="3.5" fill="#000" />
<rect x="1548.95" y="60.1" width="1.53" height="9.5" fill="#000" />
<rect x="1550.3" y="56.25" width="6.75" height="17.2" fill="#000" />
<rect x="1561.1" y="56.25" width="2.25" height="17.2" fill="#000" />
<rect x="1565.6" y="56.25" width="2.25" height="17.2" fill="#000" />
<rect x="1578.92" y="56.25" width="2.43" height="17.2" fill="#000" />
<rect x="1610.15" y="56.25" width="5.13" height="17.2" fill="#000" />
<rect x="1638.05" y="56.25" width="7.65" height="17.2" fill="#000" />
<rect x="1645.7" y="60.1" width="20.7" height="9.5" fill="#000" />
<polyline points="1595.85,61.25 1600.15,64.85 1595.85,68.45" fill="none" stroke="#0000ff" stroke-width="3.0" stroke-linejoin="miter"/>
<polyline points="1629.6,61.25 1633.9,64.85 1629.6,68.45" fill="none" stroke="#0000ff" stroke-width="3.0" stroke-linejoin="miter"/>
<text x="1590.35" y="95.2" font-size="12" stroke="#000" stroke-width="0.28">RRM2</text>
<rect x="1514.75" y="107.2" width="4.95" height="12.3" fill="#0a4cff" />
<rect x="1519.7" y="107.2" width="1.35" height="12.3" fill="#00d0ff" />
<rect x="1521.05" y="107.2" width="4.05" height="12.3" fill="#1e8cff" />
<rect x="1542.92" y="107.2" width="4.68" height="12.3" fill="#0a4cff" />
<rect x="1547.6" y="107.2" width="2.25" height="12.3" fill="#00d0ff" />
<rect x="1549.85" y="107.2" width="2.25" height="12.3" fill="#ff5a1e" />
<rect x="1552.1" y="107.2" width="7.65" height="12.3" fill="#1e8cff" />
<rect x="1578.92" y="107.2" width="1.08" height="12.3" fill="#1e8cff" />
<text x="1564.7" y="143.3" font-size="12" text-anchor="end" stroke="#000" stroke-width="0.28">KDM5B (@ K-562)</text>
<rect x="1549.8" y="204.1" width="4.4" height="12.4" fill="#c80000" />
<rect x="1543.8" y="252.5" width="2.7" height="12.4" fill="#c80000" />
<rect x="1548.7" y="252.5" width="7.7" height="12.4" fill="#c80000" />
<rect x="1516.3" y="349.3" width="2.7" height="12.4" fill="#c80000" />
<rect x="1548.7" y="349.3" width="5.5" height="12.4" fill="#c80000" />
<rect x="1516.8" y="397.7" width="2.2" height="12.4" fill="#c80000" />
<rect x="1520.7" y="397.7" width="2.7" height="12.4" fill="#c80000" />
<rect x="1542.7" y="397.7" width="3.8" height="12.4" fill="#c80000" />
<rect x="1548.2" y="397.7" width="6" height="12.4" fill="#c80000" />
<rect x="1509.72" y="446.1" width="1.41" height="11.7" fill="#1e8cff" />
<rect x="1511.13" y="446.1" width="1.41" height="11.7" fill="#a0ff00" />
<rect x="1512.54" y="446.1" width="1.41" height="11.7" fill="#ff8c00" />
<rect x="1513.94" y="446.1" width="1.41" height="11.7" fill="#00f050" />
<rect x="1515.35" y="446.1" width="2.11" height="11.7" fill="#ff8c00" />
<rect x="1517.46" y="446.1" width="2.11" height="11.7" fill="#00f050" />
<rect x="1519.58" y="446.1" width="2.11" height="11.7" fill="#00d0ff" />
<rect x="1521.69" y="446.1" width="2.11" height="11.7" fill="#1e8cff" />
<rect x="1523.8" y="446.1" width="5.63" height="11.7" fill="#0a4cff" />
<rect x="1529.44" y="446.1" width="3.52" height="11.7" fill="#1e8cff" />
<rect x="1532.96" y="446.1" width="2.11" height="11.7" fill="#00f050" />
<rect x="1535.07" y="446.1" width="3.52" height="11.7" fill="#a0ff00" />
<rect x="1538.59" y="446.1" width="2.11" height="11.7" fill="#00d0ff" />
<rect x="1540.7" y="446.1" width="2.11" height="11.7" fill="#a0ff00" />
<rect x="1542.82" y="446.1" width="1.41" height="11.7" fill="#00f050" />
<rect x="1544.23" y="446.1" width="4.93" height="11.7" fill="#00d0ff" />
<rect x="1549.15" y="446.1" width="1.69" height="11.7" fill="#ff1e00" />
<rect x="1550.85" y="446.1" width="5.35" height="11.7" fill="#0a4cff" />
<rect x="1556.2" y="446.1" width="3.52" height="11.7" fill="#1e8cff" />
<rect x="1559.72" y="446.1" width="2.82" height="11.7" fill="#00d0ff" />
<rect x="1562.54" y="446.1" width="4.23" height="11.7" fill="#1e8cff" />
<rect x="1566.76" y="446.1" width="4.23" height="11.7" fill="#0a4cff" />
<rect x="1570.99" y="446.1" width="1.41" height="11.7" fill="#00e6b4" />
<rect x="1572.39" y="446.1" width="7.04" height="11.7" fill="#0a4cff" />
<rect x="1579.44" y="446.1" width="2.11" height="11.7" fill="#ff8c00" />
<rect x="1581.55" y="446.1" width="1.41" height="11.7" fill="#1e8cff" />
<rect x="1586.06" y="446.1" width="1.83" height="11.7" fill="#00f050" />
<rect x="1587.89" y="446.1" width="4.23" height="11.7" fill="#0a4cff" />
<rect x="1594.93" y="446.1" width="4.93" height="11.7" fill="#0a4cff" />
<rect x="1663.24" y="446.1" width="2.82" height="11.7" fill="#0a4cff" />
<text x="1566" y="482.3" font-size="12" text-anchor="end" stroke="#000" stroke-width="0.28">H3K4me3 (@ FU97)</text>
<text x="1607.6" y="482.3" font-size="12" stroke="#000" stroke-width="0.28">H3K4me3 (@ HeLa)</text>
<text x="1501.2" y="498.1" font-size="9.6" stroke="#000" stroke-width="0.22">[0 - 300]</text>
<text x="1501.2" y="546.5" font-size="9.6" stroke="#000" stroke-width="0.22">[0 - 300]</text>
<text x="1501.2" y="594.9" font-size="9.6" stroke="#000" stroke-width="0.22">[0 - 300]</text>
<text x="1501.2" y="643.3" font-size="9.6" stroke="#000" stroke-width="0.22">[0 - 300]</text>
</g>
<g clip-path="url(#ca8)">
<rect x="1788" y="49.3" width="53" height="630.7" fill="#ebebeb" />
<rect x="1675.6" y="97.3" width="172.4" height="2.8" fill="#c6c6d2" />
<rect x="1675.6" y="145.7" width="172.4" height="2.8" fill="#c6c6d2" />
<rect x="1675.6" y="194.1" width="172.4" height="2.8" fill="#c6c6d2" />
<rect x="1675.6" y="242.5" width="172.4" height="2.8" fill="#c6c6d2" />
<rect x="1675.6" y="290.9" width="172.4" height="2.8" fill="#c6c6d2" />
<rect x="1675.6" y="339.3" width="172.4" height="2.8" fill="#c6c6d2" />
<rect x="1675.6" y="387.7" width="172.4" height="2.8" fill="#c6c6d2" />
<rect x="1675.6" y="436.1" width="172.4" height="2.8" fill="#c6c6d2" />
<rect x="1675.6" y="484.5" width="172.4" height="2.8" fill="#c6c6d2" />
<rect x="1675.6" y="532.9" width="172.4" height="2.8" fill="#b8b8b8" />
<rect x="1675.6" y="581.3" width="172.4" height="2.8" fill="#b8b8b8" />
<rect x="1675.6" y="629.7" width="172.4" height="2.8" fill="#b8b8b8" />
<rect x="1675.6" y="63.1" width="142" height="3.5" fill="#000" />
<rect x="1681.7" y="56.25" width="2.7" height="17.2" fill="#000" />
<rect x="1688.9" y="56.25" width="37.8" height="17.2" fill="#000" />
<rect x="1731.2" y="56.25" width="2.7" height="17.2" fill="#000" />
<rect x="1737.05" y="56.25" width="6.75" height="17.2" fill="#000" />
<rect x="1746.95" y="56.25" width="2.97" height="17.2" fill="#000" />
<rect x="1755.5" y="56.25" width="6.3" height="17.2" fill="#000" />
<rect x="1764.05" y="56.25" width="2.25" height="17.2" fill="#000" />
<rect x="1778.45" y="56.25" width="2.43" height="17.2" fill="#000" />
<rect x="1797.8" y="56.25" width="4.05" height="17.2" fill="#000" />
<rect x="1812.2" y="56.25" width="2.7" height="17.2" fill="#000" />
<text x="1726.7" y="95.2" font-size="12" stroke="#000" stroke-width="0.28">MKI67</text>
<rect x="1813.1" y="107.2" width="2.25" height="12.3" fill="#00d0ff" />
<rect x="1815.35" y="107.2" width="3.6" height="12.3" fill="#0a4cff" />
<rect x="1818.95" y="107.2" width="0.9" height="12.3" fill="#a0ff00" />
<rect x="1841" y="107.2" width="1.8" height="12.3" fill="#4cb4ff" />
<text x="1764.5" y="143.3" font-size="12" stroke="#000" stroke-width="0.28">KDM5B (@ C4-2B)</text>
<rect x="1816.9" y="204.1" width="1.9" height="12.4" fill="#c80000" />
<rect x="1816" y="252.5" width="2" height="12.4" fill="#c80000" />
<rect x="1816.9" y="349.3" width="1.9" height="12.4" fill="#c80000" />
<rect x="1815.5" y="397.7" width="1.7" height="12.4" fill="#c80000" />
<rect x="1818" y="397.7" width="1.6" height="12.4" fill="#c80000" />
<rect x="1676.34" y="446.1" width="1.41" height="11.7" fill="#1e8cff" />
<rect x="1690" y="446.1" width="5.35" height="11.7" fill="#0a4cff" />
<rect x="1715.07" y="446.1" width="1.69" height="11.7" fill="#1e8cff" />
<rect x="1726.34" y="446.1" width="1.41" height="11.7" fill="#0a4cff" />
<rect x="1730.85" y="446.1" width="1.83" height="11.7" fill="#0a4cff" />
<rect x="1748.17" y="446.1" width="1.83" height="11.7" fill="#00d0ff" />
<rect x="1798.87" y="446.1" width="2.82" height="11.7" fill="#00d0ff" />
<rect x="1801.69" y="446.1" width="2.11" height="11.7" fill="#00f050" />
<rect x="1803.8" y="446.1" width="2.11" height="11.7" fill="#ff8c00" />
<rect x="1805.92" y="446.1" width="2.82" height="11.7" fill="#ff1e00" />
<rect x="1808.73" y="446.1" width="1.41" height="11.7" fill="#ff8c00" />
<rect x="1810.14" y="446.1" width="1.41" height="11.7" fill="#ffe600" />
<rect x="1811.55" y="446.1" width="1.41" height="11.7" fill="#ff8c00" />
<rect x="1812.96" y="446.1" width="6.34" height="11.7" fill="#ffe600" />
<rect x="1819.3" y="446.1" width="2.11" height="11.7" fill="#1e8cff" />
<rect x="1821.41" y="446.1" width="2.39" height="11.7" fill="#00d0ff" />
<text x="1786.2" y="482.3" font-size="12" text-anchor="end" stroke="#000" stroke-width="0.28">H3K4me3 (@ LNCAP)</text>
<text x="1681.2" y="498.1" font-size="9.6" stroke="#000" stroke-width="0.22">[0 - 300]</text>
<text x="1681.2" y="546.5" font-size="9.6" stroke="#000" stroke-width="0.22">[0 - 300]</text>
<text x="1681.2" y="594.9" font-size="9.6" stroke="#000" stroke-width="0.22">[0 - 300]</text>
<text x="1681.2" y="643.3" font-size="9.6" stroke="#000" stroke-width="0.22">[0 - 300]</text>
</g>
<g clip-path="url(#ca0)">
</g>
<g clip-path="url(#ca0)">
<polygon points="261.8,532.75 261.8,512.5 263.6,512.5 263.6,519.7 265.85,519.7 265.85,532.75" fill="#000"/>
<polygon points="261.8,581.3 261.8,570.5 264.05,570.95 265.85,572.3 265.85,581.3" fill="#000"/>
<polygon points="261.8,629.45 261.8,612.8 263.6,612.8 263.6,619.1 265.85,619.1 265.85,629.45" fill="#000"/>
<polygon points="261.62,678.5 261.8,677.24 264.05,677.24 264.23,678.5" fill="#13943a"/>
</g>
<g clip-path="url(#ca1)">
<polygon points="493.03,532.48 497.96,523.32 502.18,524.73 503.59,520.51 506.41,514.87 509.93,514.87 512.04,520.51 514.15,507.83 517.68,505.01 520.49,500.79 527.54,501.49 528.94,509.24 531.76,512.76 535.99,514.87 538.1,523.32 540.92,530.37 543.73,532.48" fill="#000"/>
<polygon points="495.14,580.37 497.96,576.85 502.18,574.73 506.41,571.92 510.63,572.34 513.45,574.73 517.68,565.58 521.9,559.94 524.72,555.01 527.54,555.01 529.65,565.58 532.46,566.99 535.28,569.8 538.1,578.25 542.32,580.37" fill="#000"/>
<polygon points="503.59,629.66 505,628.25 509.23,627.55 510.63,629.66" fill="#000"/>
<polygon points="512.04,629.66 517.68,616.28 521.9,610.65 524.72,605.72 527.54,607.13 529.65,619.1 532.46,621.21 535.99,624.73 539.51,629.66" fill="#000"/>
<polygon points="516.97,680.08 517.68,677.55 521.9,672.62 524.72,670.51 528.94,670.51 529.65,677.55 531.76,675.44 533.87,674.73 537.39,678.25 538.1,680.08" fill="#13943a"/>
</g>
<g clip-path="url(#ca2)">
<polygon points="624.9,532.48 628.85,528.25 630.96,528.25 633.77,529.66 636.59,520.51 639.41,502.2 642.23,499.38 645.75,500.08 649.97,497.97 652.79,498.68 657.01,505.01 661.24,512.06 665.46,519.1 668.99,524.73 672.51,532.48" fill="#000"/>
<polygon points="678.14,532.48 678.14,531.77 683.77,531.77 683.77,532.48" fill="#000"/>
<polygon points="634.48,580.37 636.59,569.8 639.41,554.31 641.52,552.2 644.34,552.9 645.75,555.01 652.08,555.72 655.61,561.35 661.24,566.99 664.76,570.51 668.99,574.73 672.23,580.37" fill="#000"/>
<polygon points="626.03,580.37 626.03,579.66 633.07,579.66 633.07,580.37" fill="#000"/>
<polygon points="678.14,580.37 678.14,579.66 683.07,579.66 683.07,580.37" fill="#000"/>
<polygon points="623.21,629.24 626.03,626.14 628.85,622.62 630.96,623.32 633.77,626.14 635.89,624.73 638,605.01 640.11,592.34 644.34,592.34 647.15,596.56 651.38,602.2 657.01,609.24 659.83,620.51 664.06,622.62 668.28,625.44 672.23,629.24" fill="#000"/>
<polygon points="636.59,680.08 638.7,674.03 640.11,666.99 642.93,666.28 645.04,668.39 645.75,673.32 648.56,674.73 654.2,674.73 658.42,677.55 659.13,680.08" fill="#13943a"/>
</g>
<g clip-path="url(#ca3)">
<polygon points="908.14,532.48 908.85,514.87 910.25,500.08 911.66,497.97 913.77,498.68 914.48,504.31 915.18,520.51 915.89,532.48" fill="#000"/>
<polygon points="917.3,532.48 917.3,531.77 920.82,531.77 920.82,532.48" fill="#000"/>
<polygon points="908.14,580.37 908.85,571.21 910.25,556.42 911.38,547.97 913.77,548.68 914.76,551.49 915.61,575.44 915.89,580.37" fill="#000"/>
<polygon points="909.27,629.24 909.97,605.01 911.38,592.34 913.35,592.34 914.76,596.56 915.61,626.14 915.89,629.24" fill="#000"/>
<polygon points="911.38,680.08 911.66,674.03 912.79,674.03 912.79,667.69 914.76,667.69 914.76,680.08" fill="#13943a"/>
</g>
<g clip-path="url(#ca4)">
<polygon points="977.58,532.48 977.86,512.76 981.8,513.18 983.92,514.17 983.92,532.48" fill="#000"/>
<polygon points="989.55,532.48 989.55,531.77 993.77,531.77 993.77,532.48" fill="#000"/>
<polygon points="978.99,580.37 978.99,559.66 982.51,559.94 982.51,573.32 983.92,573.75 984.34,579.66 988.85,579.66 988.85,580.37" fill="#000"/>
<polygon points="976.87,629.24 977.86,627.55 978.28,611.35 981.1,612.06 981.8,614.87 983.92,615.58 983.92,629.24" fill="#000"/>
<polygon points="978.99,680.08 979.27,671.21 981.1,671.49 981.8,675.44 982.93,676.85 982.93,680.08" fill="#13943a"/>
</g>
<g clip-path="url(#ca5)">
<polygon points="1261.1,532.48 1265.32,522.62 1268.85,520.51 1270.96,512.76 1273.77,512.76 1274.48,521.92 1275.89,525.44 1276.59,521.92 1277.58,507.83 1279.41,507.83 1280.82,512.76 1282.93,515.58 1287.15,515.58 1288.56,523.32 1291.38,527.55 1294.9,532.48" fill="#000"/>
<polygon points="1262.08,580.37 1265.32,576.14 1268.85,575.44 1270.96,563.46 1274.2,563.46 1275.18,574.03 1277.01,574.73 1279.41,574.73 1281.52,579.66 1285.04,580.37" fill="#000"/>
<polygon points="1259.69,629.24 1264.62,620.51 1268.85,619.8 1270.54,596.56 1274.48,596.56 1275.89,607.13 1277.01,619.1 1277.58,603.61 1279.41,603.61 1281.52,608.54 1284.34,614.87 1287.15,622.62 1290.68,623.32 1294.9,629.24" fill="#000"/>
<polygon points="1270.25,680.08 1271.66,677.13 1273.77,677.13 1274.48,680.08" fill="#13943a"/>
<polygon points="1279.41,680.08 1279.83,678.25 1282.23,678.25 1282.23,680.08" fill="#13943a"/>
</g>
<g clip-path="url(#ca6)">
<polygon points="1327.61,532.48 1330.42,528.96 1332.54,528.25 1333.94,517.69 1335.35,505.01 1336.76,502.2 1339.58,502.48 1340.99,506.42 1342.68,520.51 1344.51,524.73 1346.9,528.25 1348.73,532.48" fill="#000"/>
<polygon points="1327.61,580.37 1329.01,576.85 1332.25,576.14 1333.94,568.39 1335.35,557.83 1336.76,556.42 1339.58,556.42 1341.69,559.94 1343.8,564.87 1346.62,566.28 1348.03,570.51 1350.85,572.62 1355.77,573.32 1358.59,576.14 1360.7,578.96 1364.23,580.37" fill="#000"/>
<polygon points="1327.61,629.24 1329.72,626.14 1331.83,624.73 1333.94,614.87 1335.35,603.61 1336.76,602.2 1338.87,602.9 1340.28,607.13 1341.69,612.06 1343.1,621.92 1345.21,627.55 1347.75,629.24" fill="#000"/>
<polygon points="1333.24,680.08 1333.66,675.44 1336.06,674.03 1338.87,674.03 1338.87,680.08" fill="#13943a"/>
</g>
<g clip-path="url(#ca7)">
<polygon points="1509.01,532.48 1512.54,527.55 1516.76,524.73 1518.87,514.87 1520.28,509.24 1523.1,505.72 1527.32,506.42 1529.44,512.06 1533.66,513.18 1535.77,514.87 1537.89,509.94 1540.7,508.54 1542.82,507.83 1546.34,507.83 1548.45,509.94 1550.56,514.87 1551.97,507.13 1554.08,505.01 1557.61,503.61 1560.42,502.2 1564.65,502.2 1566.76,506.42 1568.87,512.76 1571.69,516.28 1573.8,520.51 1577.32,522.2 1579.44,527.55 1581.55,532.06 1590,532.06 1590,532.48" fill="#000"/>
<polygon points="1511.13,580.37 1512.54,578.96 1516.76,578.96 1518.87,569.8 1520.28,566.28 1523.1,566.28 1525.21,569.8 1527.32,573.32 1530.14,577.55 1532.25,580.37 1533.66,578.25 1537.89,573.32 1540.7,564.87 1542.82,559.94 1545.63,559.94 1547.75,564.17 1549.86,567.69 1551.97,552.9 1553.38,551.49 1556.2,552.2 1559.01,555.72 1561.83,560.65 1566.06,562.76 1568.17,565.58 1570.28,568.39 1573.1,571.21 1575.92,575.44 1578.73,577.55 1580.85,580.37" fill="#000"/>
<polygon points="1585.77,580.37 1587.18,578.96 1590,578.96 1590,580.37" fill="#000"/>
<polygon points="1510.14,629.24 1511.83,620.51 1514.65,616.28 1517.46,614.87 1519.58,602.2 1521.27,600.79 1523.8,601.49 1525.92,610.65 1528.03,621.92 1529.44,629.24" fill="#000"/>
<polygon points="1534.79,629.24 1537.18,621.92 1540,619.1 1541.41,613.46 1543.52,606.42 1545.63,601.49 1548.45,601.49 1549.86,610.65 1551.97,595.86 1554.08,595.15 1556.9,596.56 1559.72,602.2 1561.83,610.65 1565.35,613.46 1567.46,620.51 1570.28,620.51 1574.51,621.21 1577.32,624.73 1579.01,629.24" fill="#000"/>
<polygon points="1518.17,680.08 1519.58,672.62 1521.69,671.92 1523.8,675.44 1526.62,678.25 1526.9,680.08" fill="#13943a"/>
<polygon points="1536.48,680.08 1537.18,676.14 1540.7,675.44 1542.82,665.58 1544.23,655.01 1546.06,643.75 1549.15,643.75 1549.86,645.86 1551.27,661.35 1551.97,668.39 1553.38,666.99 1555.49,667.69 1557.61,669.8 1559.01,672.62 1560.42,677.55 1561.13,680.08" fill="#13943a"/>
<polygon points="1571.69,680.08 1571.97,677.97 1574.51,677.97 1574.51,680.08" fill="#13943a"/>
</g>
<g clip-path="url(#ca8)">
<polygon points="1804.93,532.48 1805.92,525.44 1808.73,519.1 1810.85,514.17 1812.25,509.24 1816.48,509.24 1817.61,514.87 1818.59,524.03 1821.41,524.45 1822.39,529.66 1823.52,532.48" fill="#000"/>
<polygon points="1804.93,580.37 1806.62,575.44 1808.73,569.8 1810.85,566.28 1812.54,558.54 1813.94,551.49 1817.89,551.49 1818.59,562.06 1821.41,562.06 1822.82,575.44 1824.65,580.37" fill="#000"/>
<polygon points="1807.32,629.24 1808.73,627.55 1811.55,626.85 1812.96,621.92 1813.66,613.46 1814.79,603.61 1817.89,604.31 1818.59,619.1 1821.41,619.1 1822.39,626.14 1823.52,629.24" fill="#000"/>
<polygon points="1812.96,680.08 1813.66,672.62 1814.37,659.94 1815.35,657.13 1816.2,640.93 1818.59,640.93 1819.01,655.72 1819.3,659.94 1820,671.21 1822.11,677.55 1822.39,680.08" fill="#13943a"/>
</g>
<rect x="226.2" y="50.3" width="170.8" height="628.7" fill="none" stroke="#000" stroke-width="2.2"/>
<text x="310.4" y="38.8" font-size="24.3" text-anchor="middle" >KIF4A</text>
<rect x="410" y="50.3" width="170.2" height="628.7" fill="none" stroke="#000" stroke-width="2.2"/>
<text x="495.1" y="38.8" font-size="24.3" text-anchor="middle" >AURKB</text>
<rect x="591.4" y="50.3" width="171" height="628.7" fill="none" stroke="#000" stroke-width="2.2"/>
<text x="676.9" y="38.8" font-size="24.3" text-anchor="middle" >UBE2C</text>
<rect x="773" y="50.3" width="170.4" height="628.7" fill="none" stroke="#000" stroke-width="2.2"/>
<text x="858.2" y="38.8" font-size="24.3" text-anchor="middle" >SHCBP1</text>
<rect x="953.4" y="50.3" width="170" height="628.7" fill="none" stroke="#000" stroke-width="2.2"/>
<text x="1040.8" y="38.8" font-size="24.3" text-anchor="middle" >ANLN</text>
<rect x="1134.6" y="50.3" width="170.4" height="628.7" fill="none" stroke="#000" stroke-width="2.2"/>
<text x="1219.8" y="38.8" font-size="24.3" text-anchor="middle" >TK1</text>
<rect x="1315" y="50.3" width="170.4" height="628.7" fill="none" stroke="#000" stroke-width="2.2"/>
<text x="1400.2" y="38.8" font-size="24.3" text-anchor="middle" >HMOX1</text>
<rect x="1496.6" y="50.3" width="170" height="628.7" fill="none" stroke="#000" stroke-width="2.2"/>
<text x="1581.6" y="38.8" font-size="24.3" text-anchor="middle" >RRM2</text>
<rect x="1676.6" y="50.3" width="170.4" height="628.7" fill="none" stroke="#000" stroke-width="2.2"/>
<text x="1761.8" y="38.8" font-size="24.3" text-anchor="middle" >MKI67</text>
<g clip-path="url(#cb0)">
<rect x="313" y="865.5" width="49" height="288" fill="#ebebeb" />
<rect x="224.2" y="864.1" width="156.4" height="2.8" fill="#c6c6d2" />
<rect x="224.2" y="911.7" width="156.4" height="2.8" fill="#c6c6d2" />
<rect x="224.2" y="959.3" width="156.4" height="2.8" fill="#c6c6d2" />
<rect x="224.2" y="1006.9" width="156.4" height="2.8" fill="#b8b8b8" />
<rect x="224.2" y="1054.5" width="156.4" height="2.8" fill="#b8b8b8" />
<rect x="224.2" y="1102.1" width="156.4" height="2.8" fill="#b8b8b8" />
<rect x="224.2" y="1149.7" width="156.4" height="2.8" fill="#b8b8b8" />
<rect x="343.29" y="830.75" width="37.31" height="3.5" fill="#000" />
<rect x="344.15" y="824.3" width="2.73" height="16.4" fill="#000" />
<polyline points="359.24,828.9 363.22,832.5 359.24,836.1" fill="none" stroke="#0000ff" stroke-width="3.0" stroke-linejoin="miter"/>
<text x="348.85" y="862" font-size="12" stroke="#000" stroke-width="0.28">MITF</text>
<rect x="229" y="874" width="1.71" height="11.9" fill="#1e8cff" />
<rect x="246.6" y="874" width="1.54" height="11.9" fill="#1e8cff" />
<rect x="255.14" y="874" width="1.71" height="11.9" fill="#4cb4ff" />
<rect x="342.87" y="874" width="1.11" height="11.9" fill="#ffe600" />
<rect x="343.98" y="874" width="1.88" height="11.9" fill="#1e8cff" />
<text x="280.5" y="909.4" font-size="12" text-anchor="end" stroke="#000" stroke-width="0.28">KDM5B (@ MCF-7)</text>
<rect x="224.99" y="921.4" width="1.71" height="12.3" fill="#00d0ff" />
<rect x="228.83" y="921.4" width="1.28" height="12.3" fill="#0a4cff" />
<rect x="230.11" y="921.4" width="1.71" height="12.3" fill="#00f050" />
<rect x="236.95" y="921.4" width="3.84" height="12.3" fill="#1e8cff" />
<rect x="244.04" y="921.4" width="1.45" height="12.3" fill="#ff8c00" />
<rect x="245.49" y="921.4" width="2.56" height="12.3" fill="#00f050" />
<rect x="253.78" y="921.4" width="1.54" height="12.3" fill="#ff1e00" />
<rect x="255.31" y="921.4" width="3.59" height="12.3" fill="#0a4cff" />
<rect x="261.98" y="921.4" width="2.9" height="12.3" fill="#1e8cff" />
<rect x="267.1" y="921.4" width="4.01" height="12.3" fill="#0032ff" />
<rect x="271.54" y="921.4" width="1.71" height="12.3" fill="#1e8cff" />
<rect x="289.91" y="921.4" width="1.71" height="12.3" fill="#0a4cff" />
<rect x="291.62" y="921.4" width="1.71" height="12.3" fill="#1e8cff" />
<rect x="293.32" y="921.4" width="1.71" height="12.3" fill="#4cb4ff" />
<rect x="295.03" y="921.4" width="1.71" height="12.3" fill="#0a4cff" />
<rect x="298.02" y="921.4" width="1.28" height="12.3" fill="#4cb4ff" />
<rect x="301.01" y="921.4" width="2.99" height="12.3" fill="#1e8cff" />
<rect x="307.42" y="921.4" width="1.71" height="12.3" fill="#0a4cff" />
<rect x="309.98" y="921.4" width="1.28" height="12.3" fill="#1e8cff" />
<rect x="311.69" y="921.4" width="4.27" height="12.3" fill="#0a4cff" />
<rect x="316.82" y="921.4" width="1.71" height="12.3" fill="#0a4cff" />
<rect x="323.22" y="921.4" width="1.71" height="12.3" fill="#1e8cff" />
<rect x="324.93" y="921.4" width="2.14" height="12.3" fill="#4cb4ff" />
<rect x="327.49" y="921.4" width="1.28" height="12.3" fill="#0032ff" />
<rect x="335.18" y="921.4" width="1.28" height="12.3" fill="#00d0ff" />
<rect x="337.32" y="921.4" width="1.71" height="12.3" fill="#1e8cff" />
<rect x="341.16" y="921.4" width="0.85" height="12.3" fill="#0a4cff" />
<rect x="342.01" y="921.4" width="1.11" height="12.3" fill="#ff1e00" />
<rect x="343.12" y="921.4" width="1.88" height="12.3" fill="#00f050" />
<rect x="345" y="921.4" width="4.95" height="12.3" fill="#00d0ff" />
<rect x="355.68" y="921.4" width="1.28" height="12.3" fill="#00f050" />
<rect x="356.96" y="921.4" width="1.71" height="12.3" fill="#1e8cff" />
<rect x="359.95" y="921.4" width="1.11" height="12.3" fill="#1e8cff" />
<rect x="368.07" y="921.4" width="2.56" height="12.3" fill="#0a4cff" />
<rect x="370.63" y="921.4" width="1.71" height="12.3" fill="#1e8cff" />
<rect x="372.34" y="921.4" width="4.27" height="12.3" fill="#00d0ff" />
<text x="275.4" y="957.2" font-size="12" text-anchor="end" stroke="#000" stroke-width="0.28">H3K4me3 (@ C32)</text>
<text x="294.6" y="957.2" font-size="12" stroke="#000" stroke-width="0.28">H3K4me3 (@ BJ)</text>
<text x="230.4" y="973.5" font-size="9.6" stroke="#000" stroke-width="0.22">[0 - 300]</text>
<text x="230.4" y="1021.1" font-size="9.6" stroke="#000" stroke-width="0.22">[0 - 300]</text>
<text x="230.4" y="1068.7" font-size="9.6" stroke="#000" stroke-width="0.22">[0 - 300]</text>
<text x="230.4" y="1116.3" font-size="9.6" stroke="#000" stroke-width="0.22">[0 - 300]</text>
<polygon points="342.13,1006.57 342.62,1002.01 343.43,988.97 344.25,982.45 347.84,982.45 348.32,993.04 349.14,1002.01 350.77,1006.57" fill="#000"/>
<polygon points="254.11,1054.5 254.11,1050.09 257.86,1050.09 257.86,1054.5" fill="#000"/>
<polygon points="340.99,1054.5 340.99,1044.39 342.95,1044.39 343.43,1037.05 345.06,1031.35 347.84,1031.35 348.32,1052.54 349.47,1054.5" fill="#000"/>
<polygon points="342.13,1101.77 342.62,1085.95 343.43,1066.39 346.69,1065.91 347.18,1078.62 348.32,1079.43 348.81,1096.55 349.95,1101.44 351.58,1101.77" fill="#000"/>
<polygon points="344.25,1150.01 344.58,1142.19 347.02,1142.19 347.02,1150.01" fill="#000"/>
</g>
<g clip-path="url(#cb1)">
<rect x="398.8" y="865.5" width="48.7" height="288" fill="#ebebeb" />
<rect x="384.6" y="864.1" width="156.2" height="2.8" fill="#c6c6d2" />
<rect x="384.6" y="911.7" width="156.2" height="2.8" fill="#c6c6d2" />
<rect x="384.6" y="959.3" width="156.2" height="2.8" fill="#c6c6d2" />
<rect x="384.6" y="1006.9" width="156.2" height="2.8" fill="#b8b8b8" />
<rect x="384.6" y="1054.5" width="156.2" height="2.8" fill="#b8b8b8" />
<rect x="384.6" y="1102.1" width="156.2" height="2.8" fill="#b8b8b8" />
<rect x="384.6" y="1149.7" width="156.2" height="2.8" fill="#b8b8b8" />
<rect x="403.93" y="830.75" width="134.53" height="3.5" fill="#000" />
<rect x="415.89" y="824.3" width="2.31" height="16.4" fill="#000" />
<rect x="452.62" y="824.3" width="2.31" height="16.4" fill="#000" />
<rect x="518.13" y="824.3" width="2.56" height="16.4" fill="#000" />
<rect x="530.09" y="824.3" width="2.56" height="16.4" fill="#000" />
<rect x="532.65" y="828.2" width="5.81" height="8.6" fill="#000" />
<polyline points="431.83,828.9 435.81,832.5 431.83,836.1" fill="none" stroke="#0000ff" stroke-width="3.0" stroke-linejoin="miter"/>
<polyline points="467.71,828.9 471.69,832.5 467.71,836.1" fill="none" stroke="#0000ff" stroke-width="3.0" stroke-linejoin="miter"/>
<polyline points="503.16,828.9 507.14,832.5 503.16,836.1" fill="none" stroke="#0000ff" stroke-width="3.0" stroke-linejoin="miter"/>
<text x="450.91" y="862" font-size="12" stroke="#000" stroke-width="0.28">MLANA</text>
<rect x="427.42" y="874" width="1.88" height="11.9" fill="#0032ff" />
<rect x="465.43" y="874" width="1.96" height="11.9" fill="#00d0ff" />
<text x="491.9" y="909.4" font-size="12" text-anchor="end" stroke="#000" stroke-width="0.28">KDM5B (@ SUM 185PE)</text>
<rect x="405.04" y="921.4" width="10.42" height="12.3" fill="#00d0ff" />
<rect x="415.46" y="921.4" width="4.27" height="12.3" fill="#1e8cff" />
<rect x="419.73" y="921.4" width="1.28" height="12.3" fill="#00e6b4" />
<rect x="421.01" y="921.4" width="3.84" height="12.3" fill="#0a4cff" />
<rect x="424.86" y="921.4" width="4.27" height="12.3" fill="#1e8cff" />
<rect x="429.13" y="921.4" width="3.42" height="12.3" fill="#00e6b4" />
<rect x="432.54" y="921.4" width="1.54" height="12.3" fill="#1e8cff" />
<rect x="440.06" y="921.4" width="3.59" height="12.3" fill="#0032ff" />
<rect x="504.12" y="921.4" width="2.31" height="12.3" fill="#0032ff" />
<rect x="533.76" y="921.4" width="2.14" height="12.3" fill="#00d0ff" />
<rect x="540.6" y="921.4" width="6.41" height="12.3" fill="#00d0ff" />
<text x="471" y="957.2" font-size="12" text-anchor="end" stroke="#000" stroke-width="0.28">H3K4me3 (@ Melanoma)</text>
<text x="494.9" y="957.2" font-size="12" stroke="#000" stroke-width="0.28">H3K4me3 (@ K-562)</text>
<text x="390.8" y="973.5" font-size="9.6" stroke="#000" stroke-width="0.22">[0 - 300]</text>
<text x="390.8" y="1021.1" font-size="9.6" stroke="#000" stroke-width="0.22">[0 - 300]</text>
<text x="390.8" y="1068.7" font-size="9.6" stroke="#000" stroke-width="0.22">[0 - 300]</text>
<text x="390.8" y="1116.3" font-size="9.6" stroke="#000" stroke-width="0.22">[0 - 300]</text>
<polygon points="402.93,1006.57 404.23,1002.01 405.37,985.71 407,982.45 410.26,982.45 411.08,986.52 415.15,987.34 415.97,990.6 420.86,989.78 422.49,992.23 424.93,993.04 425.75,996.3 428.19,996.3 430.64,995.49 433.9,995.49 435.53,997.12 437.97,997.93 440.42,999.56 442.05,1003.64 446.94,1005.6 452.64,1005.92 452.64,1006.57" fill="#000"/>
<polygon points="404.23,1101.77 405.37,1098.18 407.82,1096.55 409.45,1098.51 411.08,1092.47 414.01,1091.66 415.15,1098.18 416.78,1093.29 419.23,1094.1 420.86,1098.18 422.49,1095.73 424.93,1096.55 425.75,1099.81 428.19,1098.18 431.45,1096.55 433.08,1098.99 435.85,1101.77" fill="#000"/>
</g>
<g clip-path="url(#cb2)">
<rect x="553.8" y="865.5" width="48.7" height="288" fill="#ebebeb" />
<rect x="547.3" y="864.1" width="156.2" height="2.8" fill="#c6c6d2" />
<rect x="547.3" y="911.7" width="156.2" height="2.8" fill="#c6c6d2" />
<rect x="547.3" y="959.3" width="156.2" height="2.8" fill="#c6c6d2" />
<rect x="547.3" y="1006.9" width="156.2" height="2.8" fill="#b8b8b8" />
<rect x="547.3" y="1054.5" width="156.2" height="2.8" fill="#b8b8b8" />
<rect x="547.3" y="1102.1" width="156.2" height="2.8" fill="#b8b8b8" />
<rect x="547.3" y="1149.7" width="156.2" height="2.8" fill="#b8b8b8" />
<rect x="564.65" y="830.75" width="138.85" height="3.5" fill="#000" />
<rect x="564.48" y="828.2" width="1.2" height="8.6" fill="#000" />
<rect x="565.5" y="824.3" width="2.99" height="16.4" fill="#000" />
<rect x="610.94" y="824.3" width="2.39" height="16.4" fill="#000" />
<rect x="635.12" y="828.2" width="4.27" height="8.6" fill="#000" />
<rect x="639.39" y="824.3" width="2.56" height="16.4" fill="#000" />
<rect x="668" y="824.3" width="4.27" height="16.4" fill="#000" />
<rect x="677.83" y="824.3" width="2.14" height="16.4" fill="#000" />
<rect x="683.81" y="824.3" width="2.14" height="16.4" fill="#000" />
<rect x="685.94" y="828.2" width="12.81" height="8.6" fill="#000" />
<polyline points="580.59,828.9 584.57,832.5 580.59,836.1" fill="none" stroke="#0000ff" stroke-width="3.0" stroke-linejoin="miter"/>
<polyline points="627.15,828.9 631.13,832.5 627.15,836.1" fill="none" stroke="#0000ff" stroke-width="3.0" stroke-linejoin="miter"/>
<polyline points="657.04,828.9 658.89,832.5 657.04,836.1" fill="none" stroke="#0000ff" stroke-width="3.0" stroke-linejoin="miter"/>
<polyline points="661.88,828.9 660.03,832.5 661.88,836.1" fill="none" stroke="#0000ff" stroke-width="3.0" stroke-linejoin="miter"/>
<polyline points="694.34,828.9 690.36,832.5 694.34,836.1" fill="none" stroke="#0000ff" stroke-width="3.0" stroke-linejoin="miter"/>
<text x="615.47" y="862" font-size="12" stroke="#000" stroke-width="0.28">NGFR</text>
<rect x="562.08" y="874" width="2.14" height="11.9" fill="#1e8cff" />
<rect x="564.22" y="874" width="2.82" height="11.9" fill="#00e6b4" />
<rect x="571.48" y="874" width="1.28" height="11.9" fill="#ffe600" />
<rect x="572.76" y="874" width="2.82" height="11.9" fill="#0a4cff" />
<rect x="580.02" y="874" width="1.88" height="11.9" fill="#1e8cff" />
<rect x="638.96" y="874" width="3.25" height="11.9" fill="#1e8cff" />
<rect x="652.63" y="874" width="1.28" height="11.9" fill="#1e8cff" />
<rect x="654.76" y="874" width="1.96" height="11.9" fill="#1e8cff" />
<rect x="701.32" y="874" width="2.56" height="11.9" fill="#00d0ff" />
<text x="612.1" y="909.4" font-size="12" text-anchor="end" stroke="#000" stroke-width="0.28">KDM5B (@ C70R)</text>
<text x="630.8" y="909.4" font-size="12" stroke="#000" stroke-width="0.28">KDM5B (@ MDA-MB-231)</text>
<rect x="545" y="921.4" width="1.28" height="12.3" fill="#00d0ff" />
<rect x="558.67" y="921.4" width="2.14" height="12.3" fill="#0032ff" />
<rect x="560.8" y="921.4" width="4.7" height="12.3" fill="#00e6b4" />
<rect x="565.5" y="921.4" width="2.56" height="12.3" fill="#0a4cff" />
<rect x="568.06" y="921.4" width="2.56" height="12.3" fill="#00d0ff" />
<rect x="570.63" y="921.4" width="2.56" height="12.3" fill="#0a4cff" />
<rect x="573.19" y="921.4" width="5.13" height="12.3" fill="#1e8cff" />
<rect x="578.31" y="921.4" width="0.85" height="12.3" fill="#ffe600" />
<rect x="579.17" y="921.4" width="4.7" height="12.3" fill="#0a4cff" />
<rect x="583.87" y="921.4" width="1.11" height="12.3" fill="#ffe600" />
<rect x="615.47" y="921.4" width="1.45" height="12.3" fill="#1e8cff" />
<rect x="626.15" y="921.4" width="1.71" height="12.3" fill="#0a4cff" />
<rect x="638.11" y="921.4" width="3.84" height="12.3" fill="#00e6b4" />
<rect x="641.95" y="921.4" width="2.99" height="12.3" fill="#00f050" />
<rect x="644.94" y="921.4" width="3.42" height="12.3" fill="#0a4cff" />
<rect x="648.36" y="921.4" width="3.42" height="12.3" fill="#00e6b4" />
<rect x="651.77" y="921.4" width="3.42" height="12.3" fill="#1e8cff" />
<rect x="655.19" y="921.4" width="9.4" height="12.3" fill="#0a4cff" />
<rect x="667.15" y="921.4" width="1.28" height="12.3" fill="#00d0ff" />
<rect x="676.12" y="921.4" width="5.55" height="12.3" fill="#0a4cff" />
<rect x="681.67" y="921.4" width="1.71" height="12.3" fill="#1e8cff" />
<rect x="683.38" y="921.4" width="4.27" height="12.3" fill="#0a4cff" />
<rect x="696.62" y="921.4" width="2.14" height="12.3" fill="#00f050" />
<rect x="698.75" y="921.4" width="10.25" height="12.3" fill="#00d0ff" />
<text x="613.8" y="957.2" font-size="12" text-anchor="end" stroke="#000" stroke-width="0.28">H3K4me3 (@ K-562)</text>
<text x="633" y="957.2" font-size="12" stroke="#000" stroke-width="0.28">H3K4me3 (@ MCF-7)</text>
<text x="553.5" y="973.5" font-size="9.6" stroke="#000" stroke-width="0.22">[0 - 300]</text>
<text x="553.5" y="1021.1" font-size="9.6" stroke="#000" stroke-width="0.22">[0 - 300]</text>
<text x="553.5" y="1068.7" font-size="9.6" stroke="#000" stroke-width="0.22">[0 - 300]</text>
<text x="553.5" y="1116.3" font-size="9.6" stroke="#000" stroke-width="0.22">[0 - 300]</text>
<polygon points="564.56,1006.57 565.37,1003.31 567.82,1002.34 570.26,1003.64 571.08,1002.01 573.04,1001.19 573.52,997.93 576.78,997.93 579.23,1001.19 582.82,1006.57" fill="#000"/>
<polygon points="560.97,1054.5 562.11,1052.21 564.89,1051.72 565.37,1029.72 566.19,1026.46 571.08,1026.46 574.34,1028.09 578.41,1029.72 580.86,1032.16 582.82,1032.98 584.12,1042.76 585.75,1052.54 588.68,1054.5" fill="#000"/>
<polygon points="560.97,1101.77 562.11,1098.51 564.23,1096.88 564.89,1088.4 565.86,1081.55 568.63,1081.55 570.26,1084.32 571.89,1088.4 573.04,1085.14 574.01,1081.55 576.78,1081.88 577.6,1088.4 579.23,1088.4 580.04,1087.58 582.16,1087.58 584.12,1091.66 584.93,1101.11 587.38,1101.77" fill="#000"/>
<polygon points="563.26,1150.01 563.74,1143.82 564.56,1133.71 567,1133.71 567.82,1148.71 571.08,1148.71 571.89,1135.67 576.78,1135.34 577.27,1148.71 582.82,1149.04 582.82,1150.01" fill="#000"/>
</g>
<g clip-path="url(#cb3)">
<rect x="715.8" y="865.5" width="48.7" height="288" fill="#ebebeb" />
<rect x="709.4" y="911.7" width="155.6" height="2.8" fill="#c6c6d2" />
<rect x="709.4" y="959.3" width="155.6" height="2.8" fill="#c6c6d2" />
<rect x="709.4" y="1006.9" width="155.6" height="2.8" fill="#b8b8b8" />
<rect x="709.4" y="1054.5" width="155.6" height="2.8" fill="#b8b8b8" />
<rect x="709.4" y="1102.1" width="155.6" height="2.8" fill="#b8b8b8" />
<rect x="709.4" y="1149.7" width="155.6" height="2.8" fill="#b8b8b8" />
<rect x="709.4" y="830.75" width="155.6" height="3.5" fill="#000" />
<rect x="727.35" y="828.2" width="1.28" height="8.6" fill="#000" />
<rect x="728.21" y="824.3" width="2.99" height="16.4" fill="#000" />
<rect x="734.19" y="824.3" width="5.3" height="16.4" fill="#000" />
<rect x="769.21" y="824.3" width="2.56" height="16.4" fill="#000" />
<rect x="793.13" y="824.3" width="8.11" height="16.4" fill="#000" />
<rect x="811.07" y="824.3" width="4.7" height="16.4" fill="#000" />
<rect x="830.03" y="824.3" width="3.67" height="16.4" fill="#000" />
<rect x="843.1" y="824.3" width="6.83" height="16.4" fill="#000" />
<rect x="857.19" y="824.3" width="2.14" height="16.4" fill="#000" />
<rect x="860.61" y="824.3" width="4.27" height="16.4" fill="#000" />
<polyline points="755.82,828.9 753.13,832.5 755.82,836.1" fill="none" stroke="#0000ff" stroke-width="3.0" stroke-linejoin="miter"/>
<polyline points="785.16,828.9 789.14,832.5 785.16,836.1" fill="none" stroke="#0000ff" stroke-width="3.0" stroke-linejoin="miter"/>
<text x="786.72" y="862" font-size="12" stroke="#000" stroke-width="0.28">AXL</text>
<rect x="726.33" y="874" width="2.73" height="11.9" fill="#1e8cff" />
<rect x="742.9" y="874" width="1.96" height="11.9" fill="#00e6b4" />
<rect x="749.99" y="874" width="1.28" height="11.9" fill="#00e6b4" />
<rect x="751.27" y="874" width="1.71" height="11.9" fill="#ff8c00" />
<rect x="752.98" y="874" width="1.28" height="11.9" fill="#00d0ff" />
<text x="774.8" y="909.4" font-size="12" text-anchor="end" stroke="#000" stroke-width="0.28">KDM5B (@ T-47D)</text>
<rect x="706" y="921.4" width="2.14" height="12.3" fill="#00d0ff" />
<rect x="721.8" y="921.4" width="2.14" height="12.3" fill="#1e8cff" />
<rect x="723.94" y="921.4" width="2.14" height="12.3" fill="#0a4cff" />
<rect x="726.07" y="921.4" width="1.71" height="12.3" fill="#ff5a1e" />
<rect x="727.78" y="921.4" width="1.28" height="12.3" fill="#00f050" />
<rect x="729.06" y="921.4" width="3.42" height="12.3" fill="#00d0ff" />
<rect x="732.48" y="921.4" width="3.42" height="12.3" fill="#ffe600" />
<rect x="735.9" y="921.4" width="3.84" height="12.3" fill="#00f050" />
<rect x="742.3" y="921.4" width="3.42" height="12.3" fill="#0a4cff" />
<rect x="745.72" y="921.4" width="4.27" height="12.3" fill="#1e8cff" />
<rect x="749.99" y="921.4" width="1.28" height="12.3" fill="#ff5a1e" />
<rect x="751.27" y="921.4" width="2.56" height="12.3" fill="#00f050" />
<rect x="753.83" y="921.4" width="5.13" height="12.3" fill="#00e6b4" />
<rect x="764.08" y="921.4" width="6.83" height="12.3" fill="#00d0ff" />
<rect x="775.02" y="921.4" width="5.13" height="12.3" fill="#0a4cff" />
<rect x="797.83" y="921.4" width="3.84" height="12.3" fill="#00d0ff" />
<rect x="801.67" y="921.4" width="1.28" height="12.3" fill="#00f050" />
<rect x="804.06" y="921.4" width="1.2" height="12.3" fill="#0032ff" />
<rect x="830.03" y="921.4" width="1.54" height="12.3" fill="#0032ff" />
<rect x="833.7" y="921.4" width="1.28" height="12.3" fill="#00f050" />
<rect x="840.96" y="921.4" width="1.28" height="12.3" fill="#0032ff" />
<rect x="857.19" y="921.4" width="1.71" height="12.3" fill="#1e8cff" />
<rect x="860.61" y="921.4" width="1.71" height="12.3" fill="#1e8cff" />
<rect x="868.72" y="921.4" width="1.28" height="12.3" fill="#4cb4ff" />
<text x="779.9" y="957.2" font-size="12" text-anchor="end" stroke="#000" stroke-width="0.28">H3K4me3 (@ GSC8)</text>
<text x="797.4" y="957.2" font-size="12" stroke="#000" stroke-width="0.28">H3K4me3 (@ DLD-1)</text>
<text x="715.6" y="973.5" font-size="9.6" stroke="#000" stroke-width="0.22">[0 - 300]</text>
<text x="715.6" y="1021.1" font-size="9.6" stroke="#000" stroke-width="0.22">[0 - 300]</text>
<text x="715.6" y="1068.7" font-size="9.6" stroke="#000" stroke-width="0.22">[0 - 300]</text>
<text x="715.6" y="1116.3" font-size="9.6" stroke="#000" stroke-width="0.22">[0 - 300]</text>
<polygon points="727.56,1006.57 727.56,1004.94 733.26,1004.94 733.26,1006.57" fill="#000"/>
<polygon points="750.05,1006.57 751.19,1001.19 752.82,999.56 755.59,1000.05 756.57,1006.57" fill="#000"/>
<polygon points="724.3,1054.5 725.6,1044.39 728.37,1037.87 730,1026.46 734.89,1027.27 735.71,1032.98 737.01,1041.13 740.6,1041.94 741.9,1049.28 743.53,1043.57 746.79,1043.57 747.93,1049.28 749.07,1050.09 752.01,1048.46 756.08,1048.46 757.71,1054.5" fill="#000"/>
<polygon points="725.6,1101.77 726.74,1097.36 728.86,1088.4 730.49,1088.4 730.82,1093.29 734.08,1096.55 735.38,1101.77" fill="#000"/>
<polygon points="738.15,1101.77 738.15,1100.79 740.6,1100.79 740.6,1101.77" fill="#000"/>
<polygon points="750.05,1101.77 751.19,1094.92 752.82,1089.7 755.27,1090.36 756.9,1098.18 757.71,1101.77" fill="#000"/>
<polygon points="727.56,1150.01 728.37,1146.26 730.82,1144.15 734.08,1144.15 735.71,1148.38 740.6,1149.04 740.93,1150.01" fill="#000"/>
<polygon points="752.82,1150.01 753.31,1148.71 755.27,1148.71 755.27,1150.01" fill="#000"/>
</g>
<g clip-path="url(#cb4)">
<rect x="891" y="865.5" width="49" height="288" fill="#ebebeb" />
<rect x="871.6" y="864.1" width="155.7" height="2.8" fill="#c6c6d2" />
<rect x="871.6" y="911.7" width="155.7" height="2.8" fill="#c6c6d2" />
<rect x="871.6" y="959.3" width="155.7" height="2.8" fill="#c6c6d2" />
<rect x="871.6" y="1006.9" width="155.7" height="2.8" fill="#b8b8b8" />
<rect x="871.6" y="1054.5" width="155.7" height="2.8" fill="#b8b8b8" />
<rect x="871.6" y="1102.1" width="155.7" height="2.8" fill="#b8b8b8" />
<rect x="871.6" y="1149.7" width="155.7" height="2.8" fill="#b8b8b8" />
<rect x="871.6" y="830.75" width="148.02" height="3.5" fill="#000" />
<rect x="874.15" y="824.3" width="2.39" height="16.4" fill="#000" />
<rect x="883.8" y="824.3" width="2.14" height="16.4" fill="#000" />
<rect x="894.05" y="824.3" width="5.13" height="16.4" fill="#000" />
<rect x="901.31" y="824.3" width="3.42" height="16.4" fill="#000" />
<rect x="906.01" y="824.3" width="2.82" height="16.4" fill="#000" />
<rect x="920.28" y="824.3" width="2.56" height="16.4" fill="#000" />
<rect x="956.15" y="824.3" width="2.56" height="16.4" fill="#000" />
<polyline points="891.77,828.9 889.07,832.5 891.77,836.1" fill="none" stroke="#0000ff" stroke-width="3.0" stroke-linejoin="miter"/>
<polyline points="927.65,828.9 923.67,832.5 927.65,836.1" fill="none" stroke="#0000ff" stroke-width="3.0" stroke-linejoin="miter"/>
<polyline points="956.69,828.9 953.14,832.5 956.69,836.1" fill="none" stroke="#0000ff" stroke-width="3.0" stroke-linejoin="miter"/>
<polyline points="963.1,828.9 959.54,832.5 963.1,836.1" fill="none" stroke="#0000ff" stroke-width="3.0" stroke-linejoin="miter"/>
<polyline points="978.9,828.9 976.2,832.5 978.9,836.1" fill="none" stroke="#0000ff" stroke-width="3.0" stroke-linejoin="miter"/>
<polyline points="992.57,828.9 989.01,832.5 992.57,836.1" fill="none" stroke="#0000ff" stroke-width="3.0" stroke-linejoin="miter"/>
<polyline points="998.97,828.9 995.42,832.5 998.97,836.1" fill="none" stroke="#0000ff" stroke-width="3.0" stroke-linejoin="miter"/>
<polyline points="1014.77,828.9 1011.65,832.5 1014.77,836.1" fill="none" stroke="#0000ff" stroke-width="3.0" stroke-linejoin="miter"/>
<text x="932.92" y="862" font-size="12" stroke="#000" stroke-width="0.28">DCT</text>
<rect x="933.09" y="874" width="1.96" height="11.9" fill="#1e8cff" />
<rect x="1002.53" y="874" width="1.45" height="11.9" fill="#1e8cff" />
<rect x="1017.91" y="874" width="1.96" height="11.9" fill="#00d0ff" />
<text x="998.7" y="909.4" font-size="12" text-anchor="end" stroke="#000" stroke-width="0.28">KDM5B (@ SUM 185PE)</text>
<rect x="872.7" y="921.4" width="1.71" height="12.3" fill="#0a4cff" />
<rect x="879.96" y="921.4" width="1.71" height="12.3" fill="#0a4cff" />
<rect x="884.66" y="921.4" width="1.71" height="12.3" fill="#00d0ff" />
<rect x="895.16" y="921.4" width="1.88" height="12.3" fill="#0a4cff" />
<rect x="900.03" y="921.4" width="2.99" height="12.3" fill="#00d0ff" />
<rect x="906.01" y="921.4" width="4.01" height="12.3" fill="#00e6b4" />
<rect x="914.13" y="921.4" width="5.13" height="12.3" fill="#00f050" />
<rect x="919.25" y="921.4" width="1.71" height="12.3" fill="#ff1e00" />
<rect x="920.96" y="921.4" width="2.56" height="12.3" fill="#0032ff" />
<rect x="923.52" y="921.4" width="3.42" height="12.3" fill="#1e8cff" />
<rect x="931.04" y="921.4" width="4.01" height="12.3" fill="#4cb4ff" />
<rect x="941.89" y="921.4" width="1.96" height="12.3" fill="#0a4cff" />
<rect x="947.01" y="921.4" width="1.71" height="12.3" fill="#0a4cff" />
<rect x="948.72" y="921.4" width="2.14" height="12.3" fill="#00f050" />
<rect x="950.86" y="921.4" width="2.99" height="12.3" fill="#00d0ff" />
<rect x="955.98" y="921.4" width="3.42" height="12.3" fill="#0a4cff" />
<rect x="959.83" y="921.4" width="2.56" height="12.3" fill="#1e8cff" />
<rect x="964.35" y="921.4" width="2.73" height="12.3" fill="#0a4cff" />
<rect x="969.22" y="921.4" width="3.84" height="12.3" fill="#1e8cff" />
<rect x="975.2" y="921.4" width="1.71" height="12.3" fill="#0a4cff" />
<rect x="983.32" y="921.4" width="1.54" height="12.3" fill="#0a4cff" />
<rect x="995.27" y="921.4" width="1.54" height="12.3" fill="#0a4cff" />
<rect x="999.12" y="921.4" width="2.14" height="12.3" fill="#00e6b4" />
<rect x="1001.25" y="921.4" width="2.56" height="12.3" fill="#0a4cff" />
<rect x="1008.09" y="921.4" width="4.7" height="12.3" fill="#1e8cff" />
<rect x="1016.2" y="921.4" width="3.84" height="12.3" fill="#ff1e00" />
<rect x="1020.05" y="921.4" width="2.99" height="12.3" fill="#1e8cff" />
<rect x="1028.59" y="921.4" width="1.71" height="12.3" fill="#0a4cff" />
<text x="928.6" y="957.2" font-size="12" text-anchor="end" stroke="#000" stroke-width="0.28">H3K4me3 (@ DLD-1)</text>
<text x="948.7" y="957.2" font-size="12" stroke="#000" stroke-width="0.28">H3K4me3 (@ PC-3)</text>
<text x="877.8" y="973.5" font-size="9.6" stroke="#000" stroke-width="0.22">[0 - 300]</text>
<text x="877.8" y="1021.1" font-size="9.6" stroke="#000" stroke-width="0.22">[0 - 300]</text>
<text x="877.8" y="1068.7" font-size="9.6" stroke="#000" stroke-width="0.22">[0 - 300]</text>
<text x="877.8" y="1116.3" font-size="9.6" stroke="#000" stroke-width="0.22">[0 - 300]</text>
<polygon points="903.86,1006.57 904.67,1002.82 906.3,997.93 907.12,992.23 909.56,991.9 910.38,1002.01 912.82,997.93 913.64,981.63 916.9,980.82 918.53,980 918.86,973.48 921.79,973 922.12,1004.45 925.05,1006.57" fill="#000"/>
<polygon points="969.06,1006.57 969.87,1003.64 971.02,1001.19 973.13,1001.19 973.13,1006.57" fill="#000"/>
<polygon points="914.45,1101.77 916.08,1098.18 917.71,1096.55 918.53,1093.29 921.79,1092.96 922.12,1101.77" fill="#000"/>
</g>
<g clip-path="url(#cb5)">
<rect x="1043" y="865.5" width="49" height="288" fill="#ebebeb" />
<rect x="1034.9" y="864.1" width="155.8" height="2.8" fill="#c6c6d2" />
<rect x="1034.9" y="911.7" width="155.8" height="2.8" fill="#c6c6d2" />
<rect x="1034.9" y="959.3" width="155.8" height="2.8" fill="#c6c6d2" />
<rect x="1034.9" y="1006.9" width="155.8" height="2.8" fill="#b8b8b8" />
<rect x="1034.9" y="1054.5" width="155.8" height="2.8" fill="#b8b8b8" />
<rect x="1034.9" y="1102.1" width="155.8" height="2.8" fill="#b8b8b8" />
<rect x="1034.9" y="1149.7" width="155.8" height="2.8" fill="#b8b8b8" />
<rect x="1065.59" y="830.75" width="125.11" height="3.5" fill="#000" />
<rect x="1065.59" y="824.3" width="2.56" height="16.4" fill="#000" />
<rect x="1083.28" y="824.3" width="2.82" height="16.4" fill="#000" />
<rect x="1132.22" y="824.3" width="2.82" height="16.4" fill="#000" />
<polyline points="1098.2,828.9 1102.61,832.5 1098.2,836.1" fill="none" stroke="#0000ff" stroke-width="3.0" stroke-linejoin="miter"/>
<polyline points="1146.89,828.9 1151.29,832.5 1146.89,836.1" fill="none" stroke="#0000ff" stroke-width="3.0" stroke-linejoin="miter"/>
<polyline points="1182.76,828.9 1187.17,832.5 1182.76,836.1" fill="none" stroke="#0000ff" stroke-width="3.0" stroke-linejoin="miter"/>
<text x="1117.27" y="862" font-size="12" stroke="#000" stroke-width="0.28">TYR</text>
<rect x="1059.62" y="874" width="1.71" height="11.9" fill="#1e8cff" />
<text x="1109.2" y="909.4" font-size="12" text-anchor="end" stroke="#000" stroke-width="0.28">KDM5B (@ FULR)</text>
<rect x="1042.96" y="921.4" width="1.71" height="12.3" fill="#00e6b4" />
<rect x="1046.38" y="921.4" width="1.71" height="12.3" fill="#00d0ff" />
<rect x="1052.78" y="921.4" width="3.84" height="12.3" fill="#0a4cff" />
<rect x="1059.62" y="921.4" width="2.99" height="12.3" fill="#0a4cff" />
<rect x="1064.31" y="921.4" width="2.56" height="12.3" fill="#00d0ff" />
<rect x="1066.88" y="921.4" width="2.14" height="12.3" fill="#00f050" />
<rect x="1069.01" y="921.4" width="5.55" height="12.3" fill="#0032ff" />
<rect x="1074.56" y="921.4" width="4.27" height="12.3" fill="#1e8cff" />
<rect x="1083.11" y="921.4" width="1.71" height="12.3" fill="#00f050" />
<rect x="1089.08" y="921.4" width="1.71" height="12.3" fill="#1e8cff" />
<rect x="1098.05" y="921.4" width="1.28" height="12.3" fill="#1e8cff" />
<rect x="1107.02" y="921.4" width="2.56" height="12.3" fill="#0a4cff" />
<rect x="1110.87" y="921.4" width="1.71" height="12.3" fill="#00d0ff" />
<rect x="1122.83" y="921.4" width="1.28" height="12.3" fill="#0a4cff" />
<rect x="1133.08" y="921.4" width="1.71" height="12.3" fill="#00d0ff" />
<rect x="1137.35" y="921.4" width="1.28" height="12.3" fill="#1e8cff" />
<rect x="1142.04" y="921.4" width="3.84" height="12.3" fill="#1e8cff" />
<rect x="1148.88" y="921.4" width="1.28" height="12.3" fill="#a0ff00" />
<rect x="1150.16" y="921.4" width="2.56" height="12.3" fill="#1e8cff" />
<rect x="1154.86" y="921.4" width="2.99" height="12.3" fill="#1e8cff" />
<rect x="1159.56" y="921.4" width="1.28" height="12.3" fill="#0a4cff" />
<rect x="1165.79" y="921.4" width="1.2" height="12.3" fill="#0032ff" />
<rect x="1174.93" y="921.4" width="2.99" height="12.3" fill="#1e8cff" />
<text x="1106.6" y="957.2" font-size="12" text-anchor="end" stroke="#000" stroke-width="0.28">H3K4me3 (@ Melanoma)</text>
<text x="1041.1" y="973.5" font-size="9.6" stroke="#000" stroke-width="0.22">[0 - 300]</text>
<text x="1041.1" y="1021.1" font-size="9.6" stroke="#000" stroke-width="0.22">[0 - 300]</text>
<text x="1041.1" y="1068.7" font-size="9.6" stroke="#000" stroke-width="0.22">[0 - 300]</text>
<text x="1041.1" y="1116.3" font-size="9.6" stroke="#000" stroke-width="0.22">[0 - 300]</text>
<polygon points="1064.41,1006.57 1064.9,994.67 1066.04,980 1068.16,980 1068.49,992.23 1071.42,992.23 1072.07,997.12 1073.7,1005.27 1074.19,1006.57" fill="#000"/>
<polygon points="1065.56,1101.77 1066.04,1089.7 1067.67,1089.7 1068.16,1094.59 1071.42,1094.59 1071.75,1101.77" fill="#000"/>
<polygon points="1076.31,1101.77 1076.64,1092.96 1078.59,1092.96 1079.08,1101.77" fill="#000"/>
<polygon points="1082.34,1101.77 1083.97,1100.46 1086.09,1100.46 1086.42,1101.77" fill="#000"/>
</g>
<g clip-path="url(#cb6)">
<rect x="1196" y="911.7" width="155.7" height="2.8" fill="#c6c6d2" />
<rect x="1196" y="959.3" width="155.7" height="2.8" fill="#c6c6d2" />
<rect x="1196" y="1006.9" width="155.7" height="2.8" fill="#b8b8b8" />
<rect x="1196" y="1054.5" width="155.7" height="2.8" fill="#b8b8b8" />
<rect x="1196" y="1102.1" width="155.7" height="2.8" fill="#b8b8b8" />
<rect x="1196" y="1149.7" width="155.7" height="2.8" fill="#b8b8b8" />
<rect x="1219.33" y="830.75" width="132.37" height="3.5" fill="#000" />
<rect x="1224.03" y="828.2" width="1.28" height="8.6" fill="#000" />
<rect x="1224.46" y="824.3" width="2.99" height="16.4" fill="#000" />
<rect x="1237.1" y="824.3" width="2.56" height="16.4" fill="#000" />
<rect x="1259.91" y="824.3" width="2.56" height="16.4" fill="#000" />
<rect x="1271.87" y="828.2" width="4.27" height="8.6" fill="#000" />
<rect x="1289.38" y="824.3" width="2.56" height="16.4" fill="#000" />
<rect x="1306.03" y="824.3" width="2.56" height="16.4" fill="#000" />
<rect x="1333.37" y="824.3" width="2.56" height="16.4" fill="#000" />
<rect x="1340.63" y="824.3" width="2.56" height="16.4" fill="#000" />
<rect x="1343.19" y="828.2" width="8.54" height="8.6" fill="#000" />
<polyline points="1254.07,828.9 1258.48,832.5 1254.07,836.1" fill="none" stroke="#0000ff" stroke-width="3.0" stroke-linejoin="miter"/>
<polyline points="1277.14,828.9 1278.55,832.5 1277.14,836.1" fill="none" stroke="#0000ff" stroke-width="3.0" stroke-linejoin="miter"/>
<polyline points="1297.77,828.9 1293.37,832.5 1297.77,836.1" fill="none" stroke="#0000ff" stroke-width="3.0" stroke-linejoin="miter"/>
<polyline points="1321.98,828.9 1324.25,832.5 1321.98,836.1" fill="none" stroke="#0000ff" stroke-width="3.0" stroke-linejoin="miter"/>
<polyline points="1332.8,828.9 1329.24,832.5 1332.8,836.1" fill="none" stroke="#0000ff" stroke-width="3.0" stroke-linejoin="miter"/>
<text x="1266.31" y="862" font-size="12" stroke="#000" stroke-width="0.28">TYRP1</text>
<rect x="1289.38" y="874" width="1.71" height="11.9" fill="#00e6b4" />
<text x="1238.8" y="909.4" font-size="12" stroke="#000" stroke-width="0.28">KDM5B (@ T-47D)</text>
<rect x="1224.03" y="921.4" width="1.71" height="12.3" fill="#00d0ff" />
<rect x="1225.74" y="921.4" width="10.25" height="12.3" fill="#1e8cff" />
<rect x="1235.99" y="921.4" width="0.85" height="12.3" fill="#00f050" />
<rect x="1236.84" y="921.4" width="11.1" height="12.3" fill="#1e8cff" />
<rect x="1247.95" y="921.4" width="0.85" height="12.3" fill="#00d0ff" />
<rect x="1248.8" y="921.4" width="8.11" height="12.3" fill="#1e8cff" />
<rect x="1256.92" y="921.4" width="8.11" height="12.3" fill="#0a4cff" />
<rect x="1289.38" y="921.4" width="5.13" height="12.3" fill="#00e6b4" />
<rect x="1314.15" y="921.4" width="2.56" height="12.3" fill="#0a4cff" />
<rect x="1317.57" y="921.4" width="6.41" height="12.3" fill="#1e8cff" />
<rect x="1334.82" y="921.4" width="3.25" height="12.3" fill="#1e8cff" />
<rect x="1338.07" y="921.4" width="1.28" height="12.3" fill="#00d0ff" />
<rect x="1339.35" y="921.4" width="3.67" height="12.3" fill="#0a4cff" />
<rect x="1351.73" y="921.4" width="4.27" height="12.3" fill="#0a4cff" />
<text x="1251.8" y="957.2" font-size="12" text-anchor="end" stroke="#000" stroke-width="0.28">H3K4me3 (@ UKE-1)</text>
<text x="1268.9" y="957.2" font-size="12" stroke="#000" stroke-width="0.28">H3K4me3 (@ 293T)</text>
<text x="1202.2" y="973.5" font-size="9.6" stroke="#000" stroke-width="0.22">[0 - 300]</text>
<text x="1202.2" y="1021.1" font-size="9.6" stroke="#000" stroke-width="0.22">[0 - 300]</text>
<text x="1202.2" y="1068.7" font-size="9.6" stroke="#000" stroke-width="0.22">[0 - 300]</text>
<text x="1202.2" y="1116.3" font-size="9.6" stroke="#000" stroke-width="0.22">[0 - 300]</text>
<polygon points="1224.27,1101.77 1224.27,1097.36 1225.41,1096.55 1225.41,1093.29 1228.67,1093.29 1228.67,1096.55 1229.82,1097.36 1229.82,1101.77" fill="#000"/>
<polygon points="1236.01,1101.77 1236.01,1100.95 1240.9,1100.95 1240.9,1101.77" fill="#000"/>
</g>
<g clip-path="url(#cb7)">
<rect x="1390" y="865.5" width="48.8" height="288" fill="#ebebeb" />
<rect x="1358.5" y="864.1" width="156.1" height="2.8" fill="#c6c6d2" />
<rect x="1358.5" y="911.7" width="156.1" height="2.8" fill="#c6c6d2" />
<rect x="1358.5" y="959.3" width="156.1" height="2.8" fill="#c6c6d2" />
<rect x="1358.5" y="1006.9" width="156.1" height="2.8" fill="#b8b8b8" />
<rect x="1358.5" y="1054.5" width="156.1" height="2.8" fill="#b8b8b8" />
<rect x="1358.5" y="1102.1" width="156.1" height="2.8" fill="#b8b8b8" />
<rect x="1358.5" y="1149.7" width="156.1" height="2.8" fill="#b8b8b8" />
<rect x="1358.5" y="830.75" width="141.57" height="3.5" fill="#000" />
<rect x="1358.7" y="824.3" width="8.11" height="16.4" fill="#000" />
<rect x="1375.35" y="824.3" width="5.13" height="16.4" fill="#000" />
<rect x="1381.33" y="824.3" width="3.25" height="16.4" fill="#000" />
<rect x="1399.1" y="824.3" width="2.56" height="16.4" fill="#000" />
<rect x="1411.23" y="824.3" width="3.42" height="16.4" fill="#000" />
<rect x="1490.67" y="824.3" width="2.14" height="16.4" fill="#000" />
<rect x="1497.93" y="824.3" width="2.14" height="16.4" fill="#000" />
<polyline points="1420.48,828.9 1416.5,832.5 1420.48,836.1" fill="none" stroke="#0000ff" stroke-width="3.0" stroke-linejoin="miter"/>
<polyline points="1456.36,828.9 1452.38,832.5 1456.36,836.1" fill="none" stroke="#0000ff" stroke-width="3.0" stroke-linejoin="miter"/>
<polyline points="1490.52,828.9 1487.83,832.5 1490.52,836.1" fill="none" stroke="#0000ff" stroke-width="3.0" stroke-linejoin="miter"/>
<text x="1370.23" y="862" font-size="12" stroke="#000" stroke-width="0.28">TJP1</text>
<text x="1414.22" y="862" font-size="12" stroke="#000" stroke-width="0.28">TJP1</text>
<rect x="1362.97" y="874" width="1.96" height="11.9" fill="#1e8cff" />
<rect x="1367.92" y="874" width="1.88" height="11.9" fill="#1e8cff" />
<rect x="1406.11" y="874" width="1.88" height="11.9" fill="#00d0ff" />
<rect x="1410.8" y="874" width="1.28" height="11.9" fill="#00f050" />
<rect x="1412.08" y="874" width="1.71" height="11.9" fill="#1e8cff" />
<rect x="1424.04" y="874" width="1.71" height="11.9" fill="#1e8cff" />
<rect x="1472.31" y="874" width="2.14" height="11.9" fill="#a0ff00" />
<rect x="1478.71" y="874" width="1.71" height="11.9" fill="#1e8cff" />
<rect x="1480.42" y="874" width="3.42" height="11.9" fill="#00d0ff" />
<rect x="1494.09" y="874" width="1.71" height="11.9" fill="#1e8cff" />
<rect x="1497.5" y="874" width="1.71" height="11.9" fill="#1e8cff" />
<text x="1431.3" y="909.4" font-size="12" text-anchor="end" stroke="#000" stroke-width="0.28">KDM5B (@ MDA-MB-231)</text>
<rect x="1354" y="921.4" width="1.28" height="12.3" fill="#1e8cff" />
<rect x="1355.79" y="921.4" width="2.14" height="12.3" fill="#0a4cff" />
<rect x="1357.93" y="921.4" width="2.56" height="12.3" fill="#1e8cff" />
<rect x="1360.83" y="921.4" width="1.88" height="12.3" fill="#0a4cff" />
<rect x="1363.4" y="921.4" width="1.03" height="12.3" fill="#0a4cff" />
<rect x="1364.42" y="921.4" width="1.54" height="12.3" fill="#1e8cff" />
<rect x="1365.96" y="921.4" width="1.03" height="12.3" fill="#1e8cff" />
<rect x="1367.67" y="921.4" width="1.54" height="12.3" fill="#0a4cff" />
<rect x="1370.4" y="921.4" width="1.88" height="12.3" fill="#1e8cff" />
<rect x="1372.28" y="921.4" width="2.14" height="12.3" fill="#0a4cff" />
<rect x="1375.1" y="921.4" width="1.88" height="12.3" fill="#1e8cff" />
<rect x="1376.98" y="921.4" width="1.03" height="12.3" fill="#0a4cff" />
<rect x="1378.69" y="921.4" width="2.56" height="12.3" fill="#1e8cff" />
<rect x="1381.59" y="921.4" width="1.54" height="12.3" fill="#1e8cff" />
<rect x="1383.81" y="921.4" width="0.85" height="12.3" fill="#4cb4ff" />
<rect x="1385.35" y="921.4" width="2.56" height="12.3" fill="#1e8cff" />
<rect x="1387.91" y="921.4" width="1.88" height="12.3" fill="#00d0ff" />
<rect x="1390.13" y="921.4" width="0.85" height="12.3" fill="#1e8cff" />
<rect x="1391.67" y="921.4" width="0.85" height="12.3" fill="#00d0ff" />
<rect x="1393.04" y="921.4" width="2.14" height="12.3" fill="#1e8cff" />
<rect x="1396.37" y="921.4" width="1.28" height="12.3" fill="#0a4cff" />
<rect x="1398.33" y="921.4" width="1.54" height="12.3" fill="#0032ff" />
<rect x="1400.21" y="921.4" width="1.03" height="12.3" fill="#1e8cff" />
<rect x="1402.09" y="921.4" width="2.56" height="12.3" fill="#00d0ff" />
<rect x="1404.65" y="921.4" width="1.88" height="12.3" fill="#4cb4ff" />
<rect x="1407.22" y="921.4" width="1.54" height="12.3" fill="#0032ff" />
<rect x="1409.61" y="921.4" width="1.54" height="12.3" fill="#4cb4ff" />
<rect x="1411.83" y="921.4" width="0.85" height="12.3" fill="#1e8cff" />
<rect x="1413.37" y="921.4" width="1.54" height="12.3" fill="#1e8cff" />
<rect x="1416.1" y="921.4" width="1.28" height="12.3" fill="#1e8cff" />
<rect x="1417.89" y="921.4" width="1.54" height="12.3" fill="#0a4cff" />
<rect x="1420.29" y="921.4" width="0.85" height="12.3" fill="#0032ff" />
<rect x="1421.48" y="921.4" width="2.14" height="12.3" fill="#0032ff" />
<rect x="1424.3" y="921.4" width="1.54" height="12.3" fill="#0a4cff" />
<rect x="1425.84" y="921.4" width="2.56" height="12.3" fill="#1e8cff" />
<rect x="1428.74" y="921.4" width="1.54" height="12.3" fill="#1e8cff" />
<rect x="1430.28" y="921.4" width="2.14" height="12.3" fill="#4cb4ff" />
<rect x="1433.27" y="921.4" width="1.88" height="12.3" fill="#0a4cff" />
<rect x="1435.49" y="921.4" width="2.14" height="12.3" fill="#1e8cff" />
<rect x="1438.48" y="921.4" width="1.28" height="12.3" fill="#0a4cff" />
<rect x="1440.27" y="921.4" width="1.28" height="12.3" fill="#1e8cff" />
<rect x="1442.24" y="921.4" width="0.85" height="12.3" fill="#0a4cff" />
<rect x="1443.09" y="921.4" width="1.03" height="12.3" fill="#4cb4ff" />
<rect x="1444.12" y="921.4" width="2.14" height="12.3" fill="#00d0ff" />
<rect x="1446.77" y="921.4" width="1.54" height="12.3" fill="#0a4cff" />
<rect x="1448.3" y="921.4" width="1.03" height="12.3" fill="#0a4cff" />
<rect x="1449.84" y="921.4" width="1.88" height="12.3" fill="#4cb4ff" />
<rect x="1451.72" y="921.4" width="2.56" height="12.3" fill="#1e8cff" />
<rect x="1455.48" y="921.4" width="1.88" height="12.3" fill="#4cb4ff" />
<rect x="1458.21" y="921.4" width="1.54" height="12.3" fill="#0032ff" />
<rect x="1460.6" y="921.4" width="1.54" height="12.3" fill="#00d0ff" />
<rect x="1462.14" y="921.4" width="0.85" height="12.3" fill="#1e8cff" />
<rect x="1462.99" y="921.4" width="1.03" height="12.3" fill="#00d0ff" />
<rect x="1464.02" y="921.4" width="1.54" height="12.3" fill="#1e8cff" />
<rect x="1465.9" y="921.4" width="1.28" height="12.3" fill="#0a4cff" />
<rect x="1467.18" y="921.4" width="1.54" height="12.3" fill="#0032ff" />
<rect x="1469.4" y="921.4" width="1.88" height="12.3" fill="#0032ff" />
<rect x="1471.28" y="921.4" width="2.14" height="12.3" fill="#0a4cff" />
<rect x="1473.93" y="921.4" width="2.56" height="12.3" fill="#1e8cff" />
<rect x="1477" y="921.4" width="1.54" height="12.3" fill="#1e8cff" />
<rect x="1478.54" y="921.4" width="1.54" height="12.3" fill="#1e8cff" />
<rect x="1480.08" y="921.4" width="1.03" height="12.3" fill="#1e8cff" />
<rect x="1481.1" y="921.4" width="1.54" height="12.3" fill="#1e8cff" />
<rect x="1482.64" y="921.4" width="1.28" height="12.3" fill="#0a4cff" />
<rect x="1483.92" y="921.4" width="0.85" height="12.3" fill="#1e8cff" />
<rect x="1485.46" y="921.4" width="0.85" height="12.3" fill="#0032ff" />
<rect x="1487" y="921.4" width="0.85" height="12.3" fill="#1e8cff" />
<rect x="1489.05" y="921.4" width="1.03" height="12.3" fill="#1e8cff" />
<rect x="1490.07" y="921.4" width="2.14" height="12.3" fill="#4cb4ff" />
<rect x="1492.55" y="921.4" width="1.88" height="12.3" fill="#0032ff" />
<rect x="1494.94" y="921.4" width="0.85" height="12.3" fill="#1e8cff" />
<rect x="1496.99" y="921.4" width="1.54" height="12.3" fill="#0a4cff" />
<rect x="1499.04" y="921.4" width="1.54" height="12.3" fill="#4cb4ff" />
<rect x="1500.58" y="921.4" width="1.03" height="12.3" fill="#1e8cff" />
<rect x="1502.46" y="921.4" width="1.28" height="12.3" fill="#4cb4ff" />
<rect x="1504.25" y="921.4" width="2.56" height="12.3" fill="#1e8cff" />
<rect x="1507.5" y="921.4" width="0.85" height="12.3" fill="#00d0ff" />
<rect x="1509.04" y="921.4" width="1.28" height="12.3" fill="#1e8cff" />
<rect x="1511.17" y="921.4" width="1.88" height="12.3" fill="#0a4cff" />
<rect x="1514.25" y="921.4" width="1.88" height="12.3" fill="#4cb4ff" />
<rect x="1516.98" y="921.4" width="2.56" height="12.3" fill="#1e8cff" />
<rect x="1401.41" y="921.4" width="1.28" height="12.3" fill="#00e6b4" />
<rect x="1409.52" y="921.4" width="1.28" height="12.3" fill="#ff1e00" />
<rect x="1433.44" y="921.4" width="1.28" height="12.3" fill="#ffe600" />
<rect x="1482.13" y="921.4" width="1.71" height="12.3" fill="#00f050" />
<rect x="1503.48" y="921.4" width="1.28" height="12.3" fill="#00f050" />
<text x="1413.8" y="957.2" font-size="12" text-anchor="end" stroke="#000" stroke-width="0.28">H3K4me3 (@ MCF-7)</text>
<text x="1436.9" y="957.2" font-size="12" stroke="#000" stroke-width="0.28">H3K4me3 (@ 293T)</text>
<text x="1364.7" y="973.5" font-size="9.6" stroke="#000" stroke-width="0.22">[0 - 300]</text>
<text x="1364.7" y="1021.1" font-size="9.6" stroke="#000" stroke-width="0.22">[0 - 300]</text>
<text x="1364.7" y="1068.7" font-size="9.6" stroke="#000" stroke-width="0.22">[0 - 300]</text>
<text x="1364.7" y="1116.3" font-size="9.6" stroke="#000" stroke-width="0.22">[0 - 300]</text>
<polygon points="1410.74,1006.57 1410.74,993.04 1413.68,993.04 1413.68,1006.57" fill="#000"/>
<polygon points="1400.31,1006.57 1400.31,1005.76 1403.08,1005.76 1403.08,1006.57" fill="#000"/>
<polygon points="1439.43,1006.57 1439.43,1003.97 1441.71,1003.97 1441.71,1006.57" fill="#000"/>
<polygon points="1451.49,1006.57 1451.49,1004.94 1454.1,1004.94 1454.1,1006.57" fill="#000"/>
<polygon points="1409.6,1054.5 1410.09,1046.83 1412.86,1046.02 1413.68,1050.09 1414.98,1050.91 1414.98,1054.5" fill="#000"/>
<polygon points="1424.27,1054.5 1424.27,1053.68 1426.72,1053.68 1426.72,1054.5" fill="#000"/>
<polygon points="1433.24,1054.5 1433.24,1053.68 1436.5,1053.68 1436.5,1054.5" fill="#000"/>
<polygon points="1438.94,1054.5 1438.94,1053.68 1441.71,1053.68 1441.71,1054.5" fill="#000"/>
<polygon points="1409.6,1101.77 1409.6,1100.62 1410.74,1100.14 1410.74,1087.1 1413.35,1087.1 1413.35,1101.77" fill="#000"/>
<polygon points="1439.43,1101.77 1439.43,1100.95 1441.71,1100.95 1441.71,1101.77" fill="#000"/>
<polygon points="1498.11,1101.77 1498.11,1096.55 1500.39,1096.55 1500.39,1101.77" fill="#000"/>
<polygon points="1409.6,1150.01 1409.6,1147.89 1410.74,1147.89 1410.74,1137.3 1414.49,1137.3 1414.49,1150.01" fill="#000"/>
<polygon points="1497.62,1150.01 1497.62,1133.71 1501.7,1133.71 1501.7,1150.01" fill="#000"/>
</g>
<g clip-path="url(#cb8)">
<rect x="1618.3" y="865.5" width="48.7" height="288" fill="#ebebeb" />
<rect x="1520.7" y="864.1" width="156.3" height="2.8" fill="#c6c6d2" />
<rect x="1520.7" y="911.7" width="156.3" height="2.8" fill="#c6c6d2" />
<rect x="1520.7" y="959.3" width="156.3" height="2.8" fill="#c6c6d2" />
<rect x="1520.7" y="1006.9" width="156.3" height="2.8" fill="#b8b8b8" />
<rect x="1520.7" y="1054.5" width="156.3" height="2.8" fill="#b8b8b8" />
<rect x="1520.7" y="1102.1" width="156.3" height="2.8" fill="#b8b8b8" />
<rect x="1520.7" y="1149.7" width="156.3" height="2.8" fill="#b8b8b8" />
<rect x="1520.7" y="830.75" width="120.87" height="3.5" fill="#000" />
<rect x="1519.42" y="824.3" width="8.11" height="16.4" fill="#000" />
<rect x="1540.77" y="824.3" width="2.39" height="16.4" fill="#000" />
<rect x="1618.93" y="824.3" width="2.56" height="16.4" fill="#000" />
<rect x="1639.43" y="824.3" width="2.56" height="16.4" fill="#000" />
<polyline points="1546.18,828.9 1542.2,832.5 1546.18,836.1" fill="none" stroke="#0000ff" stroke-width="3.0" stroke-linejoin="miter"/>
<polyline points="1582.05,828.9 1578.07,832.5 1582.05,836.1" fill="none" stroke="#0000ff" stroke-width="3.0" stroke-linejoin="miter"/>
<polyline points="1617.93,828.9 1613.95,832.5 1617.93,836.1" fill="none" stroke="#0000ff" stroke-width="3.0" stroke-linejoin="miter"/>
<polyline points="1638.86,828.9 1636.59,832.5 1638.86,836.1" fill="none" stroke="#0000ff" stroke-width="3.0" stroke-linejoin="miter"/>
<text x="1546.75" y="862" font-size="12" text-anchor="end" stroke="#000" stroke-width="0.28">CDH2</text>
<text x="1563.83" y="862" font-size="12" stroke="#000" stroke-width="0.28">CDH2</text>
<rect x="1524.11" y="874" width="1.71" height="11.9" fill="#1e8cff" />
<rect x="1596.29" y="874" width="1.88" height="11.9" fill="#00d0ff" />
<rect x="1639" y="874" width="1.88" height="11.9" fill="#1e8cff" />
<rect x="1647.37" y="874" width="1.88" height="11.9" fill="#00f050" />
<text x="1592" y="909.4" font-size="12" text-anchor="end" stroke="#000" stroke-width="0.28">KDM5B (@ MDA-MB-231)</text>
<rect x="1516" y="921.4" width="1.28" height="12.3" fill="#1e8cff" />
<rect x="1522.83" y="921.4" width="7.26" height="12.3" fill="#0a4cff" />
<rect x="1536.93" y="921.4" width="3.84" height="12.3" fill="#1e8cff" />
<rect x="1540.77" y="921.4" width="1.71" height="12.3" fill="#00f050" />
<rect x="1542.48" y="921.4" width="5.55" height="12.3" fill="#0a4cff" />
<rect x="1548.89" y="921.4" width="1.71" height="12.3" fill="#00d0ff" />
<rect x="1556.15" y="921.4" width="1.71" height="12.3" fill="#00d0ff" />
<rect x="1559.56" y="921.4" width="2.56" height="12.3" fill="#0a4cff" />
<rect x="1564.26" y="921.4" width="8.54" height="12.3" fill="#0a4cff" />
<rect x="1574.08" y="921.4" width="1.71" height="12.3" fill="#1e8cff" />
<rect x="1575.79" y="921.4" width="4.27" height="12.3" fill="#00f050" />
<rect x="1583.48" y="921.4" width="3.42" height="12.3" fill="#1e8cff" />
<rect x="1594.16" y="921.4" width="2.56" height="12.3" fill="#00d0ff" />
<rect x="1600.14" y="921.4" width="8.97" height="12.3" fill="#1e8cff" />
<rect x="1610.82" y="921.4" width="2.56" height="12.3" fill="#0a4cff" />
<rect x="1618.08" y="921.4" width="3.84" height="12.3" fill="#1e8cff" />
<rect x="1621.92" y="921.4" width="8.11" height="12.3" fill="#0a4cff" />
<rect x="1632.17" y="921.4" width="2.56" height="12.3" fill="#00d0ff" />
<rect x="1636.87" y="921.4" width="2.99" height="12.3" fill="#0a4cff" />
<rect x="1639.86" y="921.4" width="1.28" height="12.3" fill="#00f050" />
<rect x="1641.14" y="921.4" width="4.7" height="12.3" fill="#0a4cff" />
<rect x="1647.97" y="921.4" width="2.14" height="12.3" fill="#1e8cff" />
<rect x="1650.11" y="921.4" width="2.56" height="12.3" fill="#00f050" />
<rect x="1654.81" y="921.4" width="5.55" height="12.3" fill="#1e8cff" />
<rect x="1660.36" y="921.4" width="3.42" height="12.3" fill="#00d0ff" />
<rect x="1676.59" y="921.4" width="0.85" height="12.3" fill="#00e6b4" />
<text x="1579.6" y="957.2" font-size="12" text-anchor="end" stroke="#000" stroke-width="0.28">H3K4me3 (@ DLD-1)</text>
<text x="1595.9" y="957.2" font-size="12" stroke="#000" stroke-width="0.28">H3K4me3 (@ BJ)</text>
<text x="1526.9" y="973.5" font-size="9.6" stroke="#000" stroke-width="0.22">[0 - 300]</text>
<text x="1526.9" y="1021.1" font-size="9.6" stroke="#000" stroke-width="0.22">[0 - 300]</text>
<text x="1526.9" y="1068.7" font-size="9.6" stroke="#000" stroke-width="0.22">[0 - 300]</text>
<text x="1526.9" y="1116.3" font-size="9.6" stroke="#000" stroke-width="0.22">[0 - 300]</text>
<polygon points="1637.43,1006.57 1637.92,1005.6 1638.25,988.15 1640.69,988.15 1640.69,999.56 1641.84,999.56 1641.84,1006.57" fill="#000"/>
<polygon points="1575.01,1006.57 1575.01,1004.94 1577.94,1004.94 1577.94,1006.57" fill="#000"/>
<polygon points="1637.92,1054.5 1638.25,1039.5 1639.55,1037.05 1641.84,1037.05 1641.84,1054.5" fill="#000"/>
<polygon points="1575.49,1054.5 1575.49,1053.68 1577.94,1053.68 1577.94,1054.5" fill="#000"/>
<polygon points="1595.38,1054.5 1595.38,1052.21 1597.83,1052.21 1597.83,1054.5" fill="#000"/>
<polygon points="1637.92,1101.77 1638.25,1074.06 1640.69,1074.06 1641.18,1082.69 1641.84,1082.69 1641.84,1101.77" fill="#000"/>
<polygon points="1636.95,1150.01 1636.95,1147.08 1637.92,1146.26 1638.25,1133.71 1641.84,1133.71 1641.84,1150.01" fill="#000"/>
</g>
<g clip-path="url(#cb9)">
<rect x="1690" y="865.5" width="48.8" height="288" fill="#ebebeb" />
<rect x="1681" y="864.1" width="155.5" height="2.8" fill="#c6c6d2" />
<rect x="1681" y="911.7" width="155.5" height="2.8" fill="#c6c6d2" />
<rect x="1681" y="959.3" width="155.5" height="2.8" fill="#c6c6d2" />
<rect x="1681" y="1006.9" width="155.5" height="2.8" fill="#b8b8b8" />
<rect x="1681" y="1054.5" width="155.5" height="2.8" fill="#b8b8b8" />
<rect x="1681" y="1102.1" width="155.5" height="2.8" fill="#b8b8b8" />
<rect x="1681" y="1149.7" width="155.5" height="2.8" fill="#b8b8b8" />
<rect x="1708.61" y="830.75" width="127.89" height="3.5" fill="#000" />
<rect x="1708.61" y="824.3" width="5.98" height="16.4" fill="#000" />
<rect x="1816.66" y="824.3" width="2.56" height="16.4" fill="#000" />
<polyline points="1725.41,828.9 1730.67,832.5 1725.41,836.1" fill="none" stroke="#0000ff" stroke-width="3.0" stroke-linejoin="miter"/>
<polyline points="1752.74,828.9 1755.44,832.5 1752.74,836.1" fill="none" stroke="#0000ff" stroke-width="3.0" stroke-linejoin="miter"/>
<polyline points="1761.28,828.9 1766.12,832.5 1761.28,836.1" fill="none" stroke="#0000ff" stroke-width="3.0" stroke-linejoin="miter"/>
<polyline points="1776.23,828.9 1779.36,832.5 1776.23,836.1" fill="none" stroke="#0000ff" stroke-width="3.0" stroke-linejoin="miter"/>
<polyline points="1788.19,828.9 1791.32,832.5 1788.19,836.1" fill="none" stroke="#0000ff" stroke-width="3.0" stroke-linejoin="miter"/>
<polyline points="1796.73,828.9 1801.99,832.5 1796.73,836.1" fill="none" stroke="#0000ff" stroke-width="3.0" stroke-linejoin="miter"/>
<polyline points="1811.68,828.9 1814.81,832.5 1811.68,836.1" fill="none" stroke="#0000ff" stroke-width="3.0" stroke-linejoin="miter"/>
<polyline points="1824.07,828.9 1827.19,832.5 1824.07,836.1" fill="none" stroke="#0000ff" stroke-width="3.0" stroke-linejoin="miter"/>
<polyline points="1832.61,828.9 1835.31,832.5 1832.61,836.1" fill="none" stroke="#0000ff" stroke-width="3.0" stroke-linejoin="miter"/>
<text x="1681.7" y="862" font-size="12" stroke="#000" stroke-width="0.28">ZEB1-AS1</text>
<text x="1759.86" y="862" font-size="12" stroke="#000" stroke-width="0.28">ZEB1</text>
<rect x="1709.46" y="874" width="1.71" height="11.9" fill="#1e8cff" />
<rect x="1736.79" y="874" width="1.88" height="11.9" fill="#00e6b4" />
<rect x="1741.92" y="874" width="2.73" height="11.9" fill="#0a4cff" />
<rect x="1772.67" y="874" width="1.71" height="11.9" fill="#00d0ff" />
<rect x="1779.93" y="874" width="1.45" height="11.9" fill="#1e8cff" />
<rect x="1785.65" y="874" width="1.71" height="11.9" fill="#0a4cff" />
<rect x="1808.12" y="874" width="2.14" height="11.9" fill="#0a4cff" />
<rect x="1822.64" y="874" width="1.28" height="11.9" fill="#a0ff00" />
<rect x="1823.92" y="874" width="1.71" height="11.9" fill="#00d0ff" />
<text x="1759" y="909.4" font-size="12" text-anchor="end" stroke="#000" stroke-width="0.28">KDM5B (@ FULR)</text>
<text x="1774.4" y="909.4" font-size="12" stroke="#000" stroke-width="0.28">KDM5B (@ FULR)</text>
<rect x="1682.98" y="921.4" width="2.14" height="12.3" fill="#00d0ff" />
<rect x="1690.67" y="921.4" width="1.71" height="12.3" fill="#00d0ff" />
<rect x="1694.94" y="921.4" width="2.56" height="12.3" fill="#1e8cff" />
<rect x="1697.93" y="921.4" width="5.98" height="12.3" fill="#0a4cff" />
<rect x="1706.9" y="921.4" width="2.99" height="12.3" fill="#0a4cff" />
<rect x="1709.89" y="921.4" width="0.85" height="12.3" fill="#ff1e00" />
<rect x="1710.74" y="921.4" width="1.71" height="12.3" fill="#00f050" />
<rect x="1712.45" y="921.4" width="1.28" height="12.3" fill="#0a4cff" />
<rect x="1713.73" y="921.4" width="2.14" height="12.3" fill="#0a4cff" />
<rect x="1726.12" y="921.4" width="3.42" height="12.3" fill="#0a4cff" />
<rect x="1732.1" y="921.4" width="1.71" height="12.3" fill="#00d0ff" />
<rect x="1735.94" y="921.4" width="1.28" height="12.3" fill="#0a4cff" />
<rect x="1740.64" y="921.4" width="2.56" height="12.3" fill="#1e8cff" />
<rect x="1743.2" y="921.4" width="2.56" height="12.3" fill="#00d0ff" />
<rect x="1750.03" y="921.4" width="2.56" height="12.3" fill="#0a4cff" />
<rect x="1758.15" y="921.4" width="2.99" height="12.3" fill="#00f050" />
<rect x="1761.99" y="921.4" width="4.7" height="12.3" fill="#1e8cff" />
<rect x="1769.25" y="921.4" width="5.13" height="12.3" fill="#0a4cff" />
<rect x="1774.38" y="921.4" width="4.27" height="12.3" fill="#00e6b4" />
<rect x="1779.93" y="921.4" width="2.14" height="12.3" fill="#0a4cff" />
<rect x="1785.91" y="921.4" width="1.28" height="12.3" fill="#0a4cff" />
<rect x="1790.18" y="921.4" width="8.54" height="12.3" fill="#0a4cff" />
<rect x="1802.57" y="921.4" width="1.28" height="12.3" fill="#0a4cff" />
<rect x="1806.84" y="921.4" width="3.42" height="12.3" fill="#0a4cff" />
<rect x="1810.25" y="921.4" width="1.71" height="12.3" fill="#a0ff00" />
<rect x="1812.82" y="921.4" width="5.13" height="12.3" fill="#0a4cff" />
<rect x="1821.36" y="921.4" width="4.27" height="12.3" fill="#00d0ff" />
<rect x="1831.18" y="921.4" width="4.7" height="12.3" fill="#1e8cff" />
<text x="1748.3" y="957.2" font-size="12" text-anchor="end" stroke="#000" stroke-width="0.28">H3K4me3 (@ IMR-90)</text>
<text x="1766.3" y="957.2" font-size="12" stroke="#000" stroke-width="0.28">H3K4me3 (@ K-562)</text>
<text x="1687.2" y="973.5" font-size="9.6" stroke="#000" stroke-width="0.22">[0 - 300]</text>
<text x="1687.2" y="1021.1" font-size="9.6" stroke="#000" stroke-width="0.22">[0 - 300]</text>
<text x="1687.2" y="1068.7" font-size="9.6" stroke="#000" stroke-width="0.22">[0 - 300]</text>
<text x="1687.2" y="1116.3" font-size="9.6" stroke="#000" stroke-width="0.22">[0 - 300]</text>
<polygon points="1708.34,1006.57 1708.67,999.56 1709.97,998.75 1710.3,993.86 1711.27,991.9 1713.56,991.9 1713.56,1006.57" fill="#000"/>
<polygon points="1708.34,1054.5 1708.67,1048.46 1709.97,1047.65 1709.97,1038.2 1713.56,1038.2 1713.56,1052.54 1714.86,1054.5" fill="#000"/>
<polygon points="1709.64,1101.77 1709.97,1085.95 1711.27,1081.06 1713.56,1081.06 1713.56,1101.77" fill="#000"/>
<polygon points="1709.64,1150.01 1709.97,1143.82 1710.78,1142.19 1711.27,1138.11 1713.56,1138.11 1713.56,1150.01" fill="#000"/>
</g>
<g clip-path="url(#cb10)">
<rect x="1940" y="865.5" width="48.8" height="288" fill="#ebebeb" />
<rect x="1843.6" y="864.1" width="155.1" height="2.8" fill="#c6c6d2" />
<rect x="1843.6" y="911.7" width="155.1" height="2.8" fill="#c6c6d2" />
<rect x="1843.6" y="959.3" width="155.1" height="2.8" fill="#c6c6d2" />
<rect x="1843.6" y="1006.9" width="155.1" height="2.8" fill="#b8b8b8" />
<rect x="1843.6" y="1054.5" width="155.1" height="2.8" fill="#b8b8b8" />
<rect x="1843.6" y="1102.1" width="155.1" height="2.8" fill="#b8b8b8" />
<rect x="1843.6" y="1149.7" width="155.1" height="2.8" fill="#b8b8b8" />
<rect x="1844.54" y="830.75" width="152.05" height="3.5" fill="#000" />
<rect x="1856.07" y="824.3" width="2.56" height="16.4" fill="#000" />
<rect x="1862.05" y="824.3" width="2.56" height="16.4" fill="#000" />
<rect x="1956.01" y="828.2" width="3.42" height="8.6" fill="#000" />
<rect x="1963.27" y="824.3" width="2.99" height="16.4" fill="#000" />
<rect x="1970.11" y="824.3" width="1.71" height="16.4" fill="#000" />
<polyline points="1854.65,828.9 1850.67,832.5 1854.65,836.1" fill="none" stroke="#0000ff" stroke-width="3.0" stroke-linejoin="miter"/>
<polyline points="1883.26,828.9 1879.28,832.5 1883.26,836.1" fill="none" stroke="#0000ff" stroke-width="3.0" stroke-linejoin="miter"/>
<polyline points="1919.14,828.9 1915.16,832.5 1919.14,836.1" fill="none" stroke="#0000ff" stroke-width="3.0" stroke-linejoin="miter"/>
<polyline points="1954.59,828.9 1950.61,832.5 1954.59,836.1" fill="none" stroke="#0000ff" stroke-width="3.0" stroke-linejoin="miter"/>
<polyline points="1982.64,828.9 1986.62,832.5 1982.64,836.1" fill="none" stroke="#0000ff" stroke-width="3.0" stroke-linejoin="miter"/>
<text x="1889.64" y="862" font-size="12" stroke="#000" stroke-width="0.28">ZEB2</text>
<text x="1945.76" y="862" font-size="12" stroke="#000" stroke-width="0.28">ZEB2</text>
<rect x="1880.84" y="874" width="1.96" height="11.9" fill="#00d0ff" />
<rect x="1935.51" y="874" width="1.96" height="11.9" fill="#1e8cff" />
<rect x="1966.52" y="874" width="1.88" height="11.9" fill="#ff1e00" />
<rect x="1971.39" y="874" width="1.71" height="11.9" fill="#1e8cff" />
<text x="1933" y="909.4" font-size="12" text-anchor="end" stroke="#000" stroke-width="0.28">KDM5B (@ MCF-7)</text>
<rect x="1844.54" y="921.4" width="1.28" height="12.3" fill="#00d0ff" />
<rect x="1848.81" y="921.4" width="1.71" height="12.3" fill="#00f050" />
<rect x="1856.07" y="921.4" width="3.84" height="12.3" fill="#0a4cff" />
<rect x="1862.05" y="921.4" width="4.7" height="12.3" fill="#1e8cff" />
<rect x="1870.17" y="921.4" width="10.25" height="12.3" fill="#0a4cff" />
<rect x="1880.42" y="921.4" width="2.99" height="12.3" fill="#1e8cff" />
<rect x="1883.41" y="921.4" width="1.28" height="12.3" fill="#00f050" />
<rect x="1887.25" y="921.4" width="3.42" height="12.3" fill="#a0ff00" />
<rect x="1890.67" y="921.4" width="9.4" height="12.3" fill="#0a4cff" />
<rect x="1902.2" y="921.4" width="2.14" height="12.3" fill="#0a4cff" />
<rect x="1905.19" y="921.4" width="5.13" height="12.3" fill="#1e8cff" />
<rect x="1912.02" y="921.4" width="15.8" height="12.3" fill="#0a4cff" />
<rect x="1929.96" y="921.4" width="3.84" height="12.3" fill="#1e8cff" />
<rect x="1935.51" y="921.4" width="1.71" height="12.3" fill="#00f050" />
<rect x="1937.22" y="921.4" width="4.7" height="12.3" fill="#1e8cff" />
<rect x="1945.34" y="921.4" width="3.42" height="12.3" fill="#0a4cff" />
<rect x="1949.61" y="921.4" width="4.27" height="12.3" fill="#00d0ff" />
<rect x="1955.16" y="921.4" width="0.85" height="12.3" fill="#0a4cff" />
<rect x="1958.58" y="921.4" width="2.56" height="12.3" fill="#0a4cff" />
<rect x="1961.14" y="921.4" width="5.55" height="12.3" fill="#a0ff00" />
<rect x="1967.97" y="921.4" width="4.7" height="12.3" fill="#00e6b4" />
<rect x="1976.94" y="921.4" width="2.99" height="12.3" fill="#0a4cff" />
<rect x="1982.07" y="921.4" width="1.71" height="12.3" fill="#00d0ff" />
<rect x="1986.76" y="921.4" width="1.71" height="12.3" fill="#1e8cff" />
<text x="1915.9" y="957.2" font-size="12" text-anchor="end" stroke="#000" stroke-width="0.28">H3K4me3 (@ Macrophages)</text>
<text x="1944.5" y="957.2" font-size="12" stroke="#000" stroke-width="0.28">H3K4me3</text>
<text x="1849.8" y="973.5" font-size="9.6" stroke="#000" stroke-width="0.22">[0 - 300]</text>
<text x="1849.8" y="1021.1" font-size="9.6" stroke="#000" stroke-width="0.22">[0 - 300]</text>
<text x="1849.8" y="1068.7" font-size="9.6" stroke="#000" stroke-width="0.22">[0 - 300]</text>
<text x="1849.8" y="1116.3" font-size="9.6" stroke="#000" stroke-width="0.22">[0 - 300]</text>
<polygon points="1951.43,1006.57 1956.57,1005.09 1957.71,1001.43 1959.43,996.86 1960.91,995.71 1961.14,987.14 1963.43,987.14 1963.66,978.57 1965.71,977.43 1966.29,976.29 1968,976.29 1968.23,1002.57 1969.71,1002.57 1969.71,996.86 1972.8,996.86 1972.8,1006.57" fill="#000"/>
<polygon points="1953.71,1054.57 1957.71,1053.77 1959.43,1049.43 1960.57,1044.86 1960.91,1038 1963.2,1038 1963.66,1039.71 1966.29,1039.71 1966.86,1048.86 1967.77,1054 1969.14,1054 1969.71,1046 1972.8,1046 1972.8,1054.57" fill="#000"/>
<polygon points="1953.71,1101.77 1956.8,1100.86 1958.29,1096.29 1959.77,1093.43 1960.57,1089.43 1960.91,1083.71 1963.2,1083.71 1964,1087.71 1965.49,1091.71 1966.86,1095.71 1968,1100.86 1968.91,1100.86 1969.14,1095.71 1971.43,1095.71 1973.14,1100.86 1974.29,1101.77" fill="#000"/>
<polygon points="1960.57,1149.43 1960.91,1138.57 1962.86,1138.34 1963.43,1141.43 1964,1147.71 1968,1148.63 1968,1149.43" fill="#000"/>
</g>
<rect x="225.2" y="821.4" width="154.4" height="331.1" fill="none" stroke="#000" stroke-width="2.2"/>
<text x="302.4" y="809.5" font-size="24.3" text-anchor="middle" >MITF</text>
<rect x="385.6" y="821.4" width="154.2" height="331.1" fill="none" stroke="#000" stroke-width="2.2"/>
<text x="462.7" y="809.5" font-size="24.3" text-anchor="middle" >MLANA</text>
<rect x="548.3" y="821.4" width="154.2" height="331.1" fill="none" stroke="#000" stroke-width="2.2"/>
<text x="625.4" y="809.5" font-size="24.3" text-anchor="middle" >NGFR</text>
<rect x="710.4" y="821.4" width="153.6" height="331.1" fill="none" stroke="#000" stroke-width="2.2"/>
<text x="787.2" y="809.5" font-size="24.3" text-anchor="middle" >AXL</text>
<rect x="872.6" y="821.4" width="153.7" height="331.1" fill="none" stroke="#000" stroke-width="2.2"/>
<text x="950.65" y="809.5" font-size="24.3" text-anchor="middle" >DCT</text>
<rect x="1035.9" y="821.4" width="153.8" height="331.1" fill="none" stroke="#000" stroke-width="2.2"/>
<text x="1114.5" y="809.5" font-size="24.3" text-anchor="middle" >TYR</text>
<rect x="1197" y="821.4" width="153.7" height="331.1" fill="none" stroke="#000" stroke-width="2.2"/>
<text x="1273.85" y="809.5" font-size="24.3" text-anchor="middle" >TYRP1</text>
<rect x="1359.5" y="821.4" width="154.1" height="331.1" fill="none" stroke="#000" stroke-width="2.2"/>
<text x="1433.45" y="809.5" font-size="24.3" text-anchor="middle" >TJP1</text>
<rect x="1521.7" y="821.4" width="154.3" height="331.1" fill="none" stroke="#000" stroke-width="2.2"/>
<text x="1593.25" y="809.5" font-size="24.3" text-anchor="middle" >CDH2</text>
<rect x="1682" y="821.4" width="153.5" height="331.1" fill="none" stroke="#000" stroke-width="2.2"/>
<text x="1758.75" y="809.5" font-size="24.3" text-anchor="middle" >ZEB1</text>
<rect x="1844.6" y="821.4" width="153.1" height="331.1" fill="none" stroke="#000" stroke-width="2.2"/>
<text x="1921.15" y="809.5" font-size="24.3" text-anchor="middle" >SMAD1</text>
<text x="-1.5" y="81.4" font-size="23.7" >RefSeq Genes</text>
<text x="51.5" y="129.8" font-size="23.7" >ChIP-Atlas</text>
<text x="51.5" y="178.2" font-size="23.7" >SUM185</text>
<text x="51.5" y="226.6" font-size="23.7" >SUM159</text>
<text x="51.5" y="275" font-size="23.7" >MCF7</text>
<text x="51.5" y="323.4" font-size="23.7" >HCC2157</text>
<text x="51.5" y="371.8" font-size="23.7" >T47D</text>
<text x="51.5" y="420.2" font-size="23.7" >MDA231</text>
<text x="51.5" y="468.6" font-size="23.7" >ChIP-Atlas</text>
<text x="51.5" y="517" font-size="23.7" >MM27</text>
<text x="51.5" y="565.4" font-size="23.7" >MM13</text>
<text x="51.5" y="613.8" font-size="23.7" >MM16</text>
<text x="51.5" y="662.2" font-size="23.7" >A375</text>
<line x1="37" y1="112" x2="37" y2="419.5" stroke="#000" stroke-width="2" />
<line x1="37" y1="448" x2="37" y2="660.5" stroke="#000" stroke-width="2" />
<text x="0" y="0" font-size="23.7" text-anchor="middle" transform="translate(22.5,266) rotate(-90)">KDM5B</text>
<text x="0" y="0" font-size="23.7" text-anchor="middle" transform="translate(22.5,554) rotate(-90)">H3K4me3</text>
<text x="-1.5" y="849" font-size="23.7" >RefSeq Genes</text>
<text x="-1.5" y="896.6" font-size="23.7" >ChIP-Atlas (KDM5B)</text>
<text x="51.5" y="944.2" font-size="23.7" >ChIP-Atlas</text>
<text x="51.5" y="991.8" font-size="23.7" >MM27</text>
<text x="51.5" y="1039.4" font-size="23.7" >MM13</text>
<text x="51.5" y="1087" font-size="23.7" >MM16</text>
<text x="51.5" y="1134.6" font-size="23.7" >A375</text>
<line x1="37" y1="925" x2="37" y2="1134" stroke="#000" stroke-width="2" />
<text x="0" y="0" font-size="23.7" text-anchor="middle" transform="translate(22.5,1030) rotate(-90)">H3K4me3</text>
<defs><filter id="bl" x="-30%" y="-200%" width="160%" height="500%"><feGaussianBlur stdDeviation="2.0"/></filter><filter id="bl2" x="-30%" y="-200%" width="160%" height="500%"><feGaussianBlur stdDeviation="1.2"/></filter></defs>
<rect x="196.2" y="1445.5" width="247" height="78.7" fill="#fafafa" stroke="#000" stroke-width="2"/>
<rect x="196.2" y="1534.9" width="247" height="78.3" fill="#fafafa" stroke="#000" stroke-width="2"/>
<rect x="220.5" y="1483.3" width="34.0" height="5.0" rx="2.5" fill="#aaaaaa" filter="url(#bl)"/>
<rect x="278.5" y="1481.8" width="36.0" height="6.5" rx="3.2" fill="#555555" filter="url(#bl)"/>
<rect x="209.5" y="1570.4" width="38.0" height="5.8" rx="2.9" fill="#9c9c9c" filter="url(#bl)"/>
<rect x="269.0" y="1568.4" width="41.0" height="5.8" rx="2.9" fill="#9a9a9a" filter="url(#bl)"/>
<rect x="330.5" y="1565.4" width="37.5" height="8.0" rx="4.0" fill="#262626" filter="url(#bl)"/>
<rect x="389.5" y="1562.4" width="42.5" height="6.8" rx="3.4" fill="#808080" filter="url(#bl)"/>
<line x1="205.8" y1="1427" x2="304.5" y2="1427" stroke="#000" stroke-width="2" />
<line x1="325.5" y1="1427" x2="423.6" y2="1427" stroke="#000" stroke-width="2" />
<text x="0" y="0" font-size="27.5" transform="translate(265.3,1416.5) rotate(-90)">siRNACtrl</text>
<text x="0" y="0" font-size="27.5" transform="translate(385,1416.5) rotate(-90)">siRNA KDM5B</text>
<text x="182" y="1487.3" font-size="19.8" text-anchor="end" >180 kDa -</text>
<text x="184.5" y="1573.5" font-size="19.8" text-anchor="end" >55 kDa -</text>
<text x="459.5" y="1493" font-size="28" >KDM5B</text>
<text x="459.5" y="1583" font-size="28" >ß-Tubulin</text>
<text x="460.5" y="1655" font-size="27" >Neg4</text>
<text x="460.5" y="1700" font-size="27" >Cpd1</text>
<text x="229.9" y="1655.2" font-size="28" text-anchor="middle" >+</text>
<text x="229.9" y="1700.2" font-size="28" text-anchor="middle" >-</text>
<text x="294.2" y="1655.2" font-size="28" text-anchor="middle" >-</text>
<text x="294.2" y="1700.2" font-size="28" text-anchor="middle" >+</text>
<text x="349.5" y="1655.2" font-size="28" text-anchor="middle" >+</text>
<text x="349.5" y="1700.2" font-size="28" text-anchor="middle" >-</text>
<text x="411.8" y="1655.2" font-size="28" text-anchor="middle" >-</text>
<text x="411.8" y="1700.2" font-size="28" text-anchor="middle" >+</text>
<line x1="846.0" y1="1530.6" x2="1036.0" y2="1530.6" stroke="#000" stroke-width="1.7" stroke-dasharray="3.6,2.7"/>
<rect x="859.0" y="1518.8" width="26.5" height="130.2" fill="#5f5f5f" stroke="#000" stroke-width="1.6"/>
<line x1="872.25" y1="1505.74" x2="872.25" y2="1530.6" stroke="#000" stroke-width="1.6" />
<line x1="865.75" y1="1505.74" x2="878.75" y2="1505.74" stroke="#000" stroke-width="1.6" />
<line x1="865.75" y1="1530.6" x2="878.75" y2="1530.6" stroke="#000" stroke-width="1.6" />
<circle cx="872.2" cy="1506.9" r="3.2" fill="#000"/>
<circle cx="872.2" cy="1516.4" r="3.2" fill="#000"/>
<circle cx="872.2" cy="1530.6" r="3.2" fill="#000"/>
<rect x="898.8" y="1425.2" width="25.7" height="223.8" fill="#fff" stroke="#000" stroke-width="1.6"/>
<line x1="911.65" y1="1401.54" x2="911.65" y2="1447.72" stroke="#000" stroke-width="1.6" />
<line x1="905.15" y1="1401.54" x2="918.15" y2="1401.54" stroke="#000" stroke-width="1.6" />
<line x1="905.15" y1="1447.72" x2="918.15" y2="1447.72" stroke="#000" stroke-width="1.6" />
<circle cx="911.6" cy="1405.1" r="3.2" fill="#000"/>
<circle cx="911.6" cy="1418.1" r="3.2" fill="#000"/>
<circle cx="911.6" cy="1450.1" r="3.2" fill="#000"/>
<rect x="963.5" y="1578.6" width="26.5" height="70.4" fill="#5f5f5f" stroke="#000" stroke-width="1.6"/>
<line x1="976.75" y1="1572.04" x2="976.75" y2="1584.47" stroke="#000" stroke-width="1.6" />
<line x1="970.25" y1="1572.04" x2="983.25" y2="1572.04" stroke="#000" stroke-width="1.6" />
<line x1="970.25" y1="1584.47" x2="983.25" y2="1584.47" stroke="#000" stroke-width="1.6" />
<circle cx="976.8" cy="1571.2" r="3.2" fill="#000"/>
<circle cx="969.8" cy="1583.2" r="3.2" fill="#000"/>
<circle cx="983.8" cy="1581.9" r="3.2" fill="#000"/>
<rect x="1003.3" y="1415.2" width="25.7" height="233.8" fill="#fff" stroke="#000" stroke-width="1.6"/>
<line x1="1016.15" y1="1392.43" x2="1016.15" y2="1438.25" stroke="#000" stroke-width="1.6" />
<line x1="1009.65" y1="1392.43" x2="1022.65" y2="1392.43" stroke="#000" stroke-width="1.6" />
<line x1="1009.65" y1="1438.25" x2="1022.65" y2="1438.25" stroke="#000" stroke-width="1.6" />
<circle cx="1016.1" cy="1398.0" r="3.2" fill="#000"/>
<circle cx="1016.1" cy="1405.7" r="3.2" fill="#000"/>
<circle cx="1016.1" cy="1441.0" r="3.2" fill="#000"/>
<line x1="846.0" y1="1530.6" x2="1036.0" y2="1530.6" stroke="#000" stroke-width="1.7" stroke-dasharray="3.6,2.7"/>
<line x1="846" y1="1352.2" x2="846" y2="1649.8" stroke="#000" stroke-width="1.7" />
<line x1="834" y1="1649" x2="1043" y2="1649" stroke="#000" stroke-width="1.7" />
<line x1="834" y1="1649" x2="846" y2="1649" stroke="#000" stroke-width="1.6" />
<text x="831.5" y="1656" font-size="19.6" text-anchor="end" >0.0</text>
<line x1="834" y1="1589.8" x2="846" y2="1589.8" stroke="#000" stroke-width="1.6" />
<text x="831.5" y="1596.8" font-size="19.6" text-anchor="end" >0.5</text>
<line x1="834" y1="1530.6" x2="846" y2="1530.6" stroke="#000" stroke-width="1.6" />
<text x="831.5" y="1537.6" font-size="19.6" text-anchor="end" >1.0</text>
<line x1="834" y1="1471.4" x2="846" y2="1471.4" stroke="#000" stroke-width="1.6" />
<text x="831.5" y="1478.4" font-size="19.6" text-anchor="end" >1.5</text>
<line x1="834" y1="1412.2" x2="846" y2="1412.2" stroke="#000" stroke-width="1.6" />
<text x="831.5" y="1419.2" font-size="19.6" text-anchor="end" >2.0</text>
<line x1="834" y1="1353" x2="846" y2="1353" stroke="#000" stroke-width="1.6" />
<text x="831.5" y="1360" font-size="19.6" text-anchor="end" >2.5</text>
<line x1="892" y1="1649" x2="892" y2="1660" stroke="#000" stroke-width="1.6" />
<text x="892" y="1683.4" font-size="23.4" text-anchor="middle" >Neg4</text>
<line x1="996.5" y1="1649" x2="996.5" y2="1660" stroke="#000" stroke-width="1.6" />
<text x="996.5" y="1683.4" font-size="23.4" text-anchor="middle" >Cpd1</text>
<text x="945" y="1346.7" font-size="27.5" text-anchor="middle" >AURKB</text>
<line x1="1133.2" y1="1530.6" x2="1323.2" y2="1530.6" stroke="#000" stroke-width="1.7" stroke-dasharray="3.6,2.7"/>
<rect x="1146.2" y="1529.8" width="26.5" height="119.2" fill="#5f5f5f" stroke="#000" stroke-width="1.6"/>
<line x1="1159.5" y1="1524.8" x2="1159.5" y2="1533.56" stroke="#000" stroke-width="1.6" />
<line x1="1153" y1="1524.8" x2="1166" y2="1524.8" stroke="#000" stroke-width="1.6" />
<line x1="1153" y1="1533.56" x2="1166" y2="1533.56" stroke="#000" stroke-width="1.6" />
<circle cx="1159.5" cy="1524.7" r="3.2" fill="#000"/>
<circle cx="1153.0" cy="1533.0" r="3.2" fill="#000"/>
<circle cx="1165.0" cy="1530.6" r="3.2" fill="#000"/>
<rect x="1186.0" y="1501.9" width="25.7" height="147.1" fill="#fff" stroke="#000" stroke-width="1.6"/>
<line x1="1198.9" y1="1492.71" x2="1198.9" y2="1510.47" stroke="#000" stroke-width="1.6" />
<line x1="1192.4" y1="1492.71" x2="1205.4" y2="1492.71" stroke="#000" stroke-width="1.6" />
<line x1="1192.4" y1="1510.47" x2="1205.4" y2="1510.47" stroke="#000" stroke-width="1.6" />
<circle cx="1198.9" cy="1492.7" r="3.2" fill="#000"/>
<circle cx="1192.9" cy="1509.3" r="3.2" fill="#000"/>
<circle cx="1204.9" cy="1505.7" r="3.2" fill="#000"/>
<rect x="1250.8" y="1566.8" width="26.5" height="82.2" fill="#5f5f5f" stroke="#000" stroke-width="1.6"/>
<line x1="1264" y1="1552.27" x2="1264" y2="1581.04" stroke="#000" stroke-width="1.6" />
<line x1="1257.5" y1="1552.27" x2="1270.5" y2="1552.27" stroke="#000" stroke-width="1.6" />
<line x1="1257.5" y1="1581.04" x2="1270.5" y2="1581.04" stroke="#000" stroke-width="1.6" />
<circle cx="1264.0" cy="1550.7" r="3.2" fill="#000"/>
<circle cx="1264.0" cy="1570.9" r="3.2" fill="#000"/>
<circle cx="1264.0" cy="1580.3" r="3.2" fill="#000"/>
<rect x="1290.5" y="1441.4" width="25.7" height="207.6" fill="#fff" stroke="#000" stroke-width="1.6"/>
<line x1="1303.4" y1="1411.49" x2="1303.4" y2="1471.4" stroke="#000" stroke-width="1.6" />
<line x1="1296.9" y1="1411.49" x2="1309.9" y2="1411.49" stroke="#000" stroke-width="1.6" />
<line x1="1296.9" y1="1471.4" x2="1309.9" y2="1471.4" stroke="#000" stroke-width="1.6" />
<circle cx="1303.4" cy="1415.8" r="3.2" fill="#000"/>
<circle cx="1303.4" cy="1432.3" r="3.2" fill="#000"/>
<circle cx="1303.4" cy="1475.0" r="3.2" fill="#000"/>
<line x1="1133.2" y1="1530.6" x2="1323.2" y2="1530.6" stroke="#000" stroke-width="1.7" stroke-dasharray="3.6,2.7"/>
<line x1="1133.25" y1="1352.2" x2="1133.25" y2="1649.8" stroke="#000" stroke-width="1.7" />
<line x1="1121.25" y1="1649" x2="1330.25" y2="1649" stroke="#000" stroke-width="1.7" />
<line x1="1121.25" y1="1649" x2="1133.25" y2="1649" stroke="#000" stroke-width="1.6" />
<text x="1118.75" y="1656" font-size="19.6" text-anchor="end" >0.0</text>
<line x1="1121.25" y1="1589.8" x2="1133.25" y2="1589.8" stroke="#000" stroke-width="1.6" />
<text x="1118.75" y="1596.8" font-size="19.6" text-anchor="end" >0.5</text>
<line x1="1121.25" y1="1530.6" x2="1133.25" y2="1530.6" stroke="#000" stroke-width="1.6" />
<text x="1118.75" y="1537.6" font-size="19.6" text-anchor="end" >1.0</text>
<line x1="1121.25" y1="1471.4" x2="1133.25" y2="1471.4" stroke="#000" stroke-width="1.6" />
<text x="1118.75" y="1478.4" font-size="19.6" text-anchor="end" >1.5</text>
<line x1="1121.25" y1="1412.2" x2="1133.25" y2="1412.2" stroke="#000" stroke-width="1.6" />
<text x="1118.75" y="1419.2" font-size="19.6" text-anchor="end" >2.0</text>
<line x1="1121.25" y1="1353" x2="1133.25" y2="1353" stroke="#000" stroke-width="1.6" />
<text x="1118.75" y="1360" font-size="19.6" text-anchor="end" >2.5</text>
<line x1="1179.25" y1="1649" x2="1179.25" y2="1660" stroke="#000" stroke-width="1.6" />
<text x="1179.25" y="1683.4" font-size="23.4" text-anchor="middle" >Neg4</text>
<line x1="1283.75" y1="1649" x2="1283.75" y2="1660" stroke="#000" stroke-width="1.6" />
<text x="1283.75" y="1683.4" font-size="23.4" text-anchor="middle" >Cpd1</text>
<text x="1232.25" y="1346.7" font-size="27.5" text-anchor="middle" >KIF4A</text>
<line x1="1428.8" y1="1501.0" x2="1618.8" y2="1501.0" stroke="#000" stroke-width="1.7" stroke-dasharray="3.6,2.7"/>
<rect x="1441.8" y="1502.8" width="26.5" height="146.2" fill="#5f5f5f" stroke="#000" stroke-width="1.6"/>
<line x1="1455" y1="1495.82" x2="1455" y2="1510.03" stroke="#000" stroke-width="1.6" />
<line x1="1448.5" y1="1495.82" x2="1461.5" y2="1495.82" stroke="#000" stroke-width="1.6" />
<line x1="1448.5" y1="1510.03" x2="1461.5" y2="1510.03" stroke="#000" stroke-width="1.6" />
<circle cx="1449.0" cy="1496.6" r="3.2" fill="#000"/>
<circle cx="1461.0" cy="1501.0" r="3.2" fill="#000"/>
<circle cx="1455.0" cy="1509.9" r="3.2" fill="#000"/>
<rect x="1481.5" y="1557.8" width="25.7" height="91.2" fill="#fff" stroke="#000" stroke-width="1.6"/>
<line x1="1494.4" y1="1552.36" x2="1494.4" y2="1563.16" stroke="#000" stroke-width="1.6" />
<line x1="1487.9" y1="1552.36" x2="1500.9" y2="1552.36" stroke="#000" stroke-width="1.6" />
<line x1="1487.9" y1="1563.16" x2="1500.9" y2="1563.16" stroke="#000" stroke-width="1.6" />
<circle cx="1487.9" cy="1552.8" r="3.2" fill="#000"/>
<circle cx="1500.4" cy="1555.8" r="3.2" fill="#000"/>
<circle cx="1494.4" cy="1563.2" r="3.2" fill="#000"/>
<rect x="1546.2" y="1430.0" width="26.5" height="219.0" fill="#5f5f5f" stroke="#000" stroke-width="1.6"/>
<line x1="1559.5" y1="1409.98" x2="1559.5" y2="1447.87" stroke="#000" stroke-width="1.6" />
<line x1="1553" y1="1409.98" x2="1566" y2="1409.98" stroke="#000" stroke-width="1.6" />
<line x1="1553" y1="1447.87" x2="1566" y2="1447.87" stroke="#000" stroke-width="1.6" />
<circle cx="1559.5" cy="1410.0" r="3.2" fill="#000"/>
<circle cx="1559.5" cy="1432.9" r="3.2" fill="#000"/>
<circle cx="1559.5" cy="1447.7" r="3.2" fill="#000"/>
<rect x="1586.0" y="1493.6" width="25.7" height="155.4" fill="#fff" stroke="#000" stroke-width="1.6"/>
<line x1="1598.9" y1="1472.88" x2="1598.9" y2="1514.62" stroke="#000" stroke-width="1.6" />
<line x1="1592.4" y1="1472.88" x2="1605.4" y2="1472.88" stroke="#000" stroke-width="1.6" />
<line x1="1592.4" y1="1514.62" x2="1605.4" y2="1514.62" stroke="#000" stroke-width="1.6" />
<circle cx="1592.9" cy="1486.2" r="3.2" fill="#000"/>
<circle cx="1604.9" cy="1483.2" r="3.2" fill="#000"/>
<circle cx="1598.9" cy="1518.0" r="3.2" fill="#000"/>
<line x1="1428.8" y1="1501.0" x2="1618.8" y2="1501.0" stroke="#000" stroke-width="1.7" stroke-dasharray="3.6,2.7"/>
<line x1="1428.75" y1="1352.2" x2="1428.75" y2="1649.8" stroke="#000" stroke-width="1.7" />
<line x1="1416.75" y1="1649" x2="1625.75" y2="1649" stroke="#000" stroke-width="1.7" />
<line x1="1416.75" y1="1649" x2="1428.75" y2="1649" stroke="#000" stroke-width="1.6" />
<text x="1414.25" y="1656" font-size="19.6" text-anchor="end" >0.0</text>
<line x1="1416.75" y1="1575" x2="1428.75" y2="1575" stroke="#000" stroke-width="1.6" />
<text x="1414.25" y="1582" font-size="19.6" text-anchor="end" >0.5</text>
<line x1="1416.75" y1="1501" x2="1428.75" y2="1501" stroke="#000" stroke-width="1.6" />
<text x="1414.25" y="1508" font-size="19.6" text-anchor="end" >1.0</text>
<line x1="1416.75" y1="1427" x2="1428.75" y2="1427" stroke="#000" stroke-width="1.6" />
<text x="1414.25" y="1434" font-size="19.6" text-anchor="end" >1.5</text>
<line x1="1416.75" y1="1353" x2="1428.75" y2="1353" stroke="#000" stroke-width="1.6" />
<text x="1414.25" y="1360" font-size="19.6" text-anchor="end" >2.0</text>
<line x1="1474.75" y1="1649" x2="1474.75" y2="1660" stroke="#000" stroke-width="1.6" />
<text x="1474.75" y="1683.4" font-size="23.4" text-anchor="middle" >Neg4</text>
<line x1="1579.25" y1="1649" x2="1579.25" y2="1660" stroke="#000" stroke-width="1.6" />
<text x="1579.25" y="1683.4" font-size="23.4" text-anchor="middle" >Cpd1</text>
<text x="1527.75" y="1346.7" font-size="27.5" text-anchor="middle" >DCT</text>
<line x1="1708.0" y1="1451.7" x2="1898.0" y2="1451.7" stroke="#000" stroke-width="1.7" stroke-dasharray="3.6,2.7"/>
<rect x="1721.0" y="1457.2" width="26.5" height="191.8" fill="#5f5f5f" stroke="#000" stroke-width="1.6"/>
<line x1="1734.25" y1="1450.88" x2="1734.25" y2="1462.91" stroke="#000" stroke-width="1.6" />
<line x1="1727.75" y1="1450.88" x2="1740.75" y2="1450.88" stroke="#000" stroke-width="1.6" />
<line x1="1727.75" y1="1462.91" x2="1740.75" y2="1462.91" stroke="#000" stroke-width="1.6" />
<circle cx="1728.2" cy="1451.7" r="3.2" fill="#000"/>
<circle cx="1740.2" cy="1453.6" r="3.2" fill="#000"/>
<circle cx="1734.2" cy="1463.5" r="3.2" fill="#000"/>
<rect x="1760.8" y="1519.4" width="25.7" height="129.6" fill="#fff" stroke="#000" stroke-width="1.6"/>
<line x1="1773.65" y1="1507.51" x2="1773.65" y2="1531.39" stroke="#000" stroke-width="1.6" />
<line x1="1767.15" y1="1507.51" x2="1780.15" y2="1507.51" stroke="#000" stroke-width="1.6" />
<line x1="1767.15" y1="1531.39" x2="1780.15" y2="1531.39" stroke="#000" stroke-width="1.6" />
<circle cx="1767.2" cy="1510.9" r="3.2" fill="#000"/>
<circle cx="1779.7" cy="1512.8" r="3.2" fill="#000"/>
<circle cx="1773.7" cy="1532.6" r="3.2" fill="#000"/>
<rect x="1825.5" y="1403.1" width="26.5" height="245.9" fill="#5f5f5f" stroke="#000" stroke-width="1.6"/>
<line x1="1838.75" y1="1388.13" x2="1838.75" y2="1417.73" stroke="#000" stroke-width="1.6" />
<line x1="1832.25" y1="1388.13" x2="1845.25" y2="1388.13" stroke="#000" stroke-width="1.6" />
<line x1="1832.25" y1="1417.73" x2="1845.25" y2="1417.73" stroke="#000" stroke-width="1.6" />
<circle cx="1838.8" cy="1387.1" r="3.2" fill="#000"/>
<circle cx="1838.8" cy="1404.9" r="3.2" fill="#000"/>
<circle cx="1838.8" cy="1416.9" r="3.2" fill="#000"/>
<rect x="1865.3" y="1446.1" width="25.7" height="202.9" fill="#fff" stroke="#000" stroke-width="1.6"/>
<line x1="1878.15" y1="1420.88" x2="1878.15" y2="1472.58" stroke="#000" stroke-width="1.6" />
<line x1="1871.65" y1="1420.88" x2="1884.65" y2="1420.88" stroke="#000" stroke-width="1.6" />
<line x1="1871.65" y1="1472.58" x2="1884.65" y2="1472.58" stroke="#000" stroke-width="1.6" />
<circle cx="1878.2" cy="1428.0" r="3.2" fill="#000"/>
<circle cx="1878.2" cy="1433.9" r="3.2" fill="#000"/>
<circle cx="1878.2" cy="1476.3" r="3.2" fill="#000"/>
<line x1="1708.0" y1="1451.7" x2="1898.0" y2="1451.7" stroke="#000" stroke-width="1.7" stroke-dasharray="3.6,2.7"/>
<line x1="1708" y1="1352.2" x2="1708" y2="1649.8" stroke="#000" stroke-width="1.7" />
<line x1="1696" y1="1649" x2="1905" y2="1649" stroke="#000" stroke-width="1.7" />
<line x1="1696" y1="1649" x2="1708" y2="1649" stroke="#000" stroke-width="1.6" />
<text x="1693.5" y="1656" font-size="19.6" text-anchor="end" >0.0</text>
<line x1="1696" y1="1550.33" x2="1708" y2="1550.33" stroke="#000" stroke-width="1.6" />
<text x="1693.5" y="1557.33" font-size="19.6" text-anchor="end" >0.5</text>
<line x1="1696" y1="1451.67" x2="1708" y2="1451.67" stroke="#000" stroke-width="1.6" />
<text x="1693.5" y="1458.67" font-size="19.6" text-anchor="end" >1.0</text>
<line x1="1696" y1="1353" x2="1708" y2="1353" stroke="#000" stroke-width="1.6" />
<text x="1693.5" y="1360" font-size="19.6" text-anchor="end" >1.5</text>
<line x1="1754" y1="1649" x2="1754" y2="1660" stroke="#000" stroke-width="1.6" />
<text x="1754" y="1683.4" font-size="23.4" text-anchor="middle" >Neg4</text>
<line x1="1858.5" y1="1649" x2="1858.5" y2="1660" stroke="#000" stroke-width="1.6" />
<text x="1858.5" y="1683.4" font-size="23.4" text-anchor="middle" >Cpd1</text>
<text x="1807" y="1346.7" font-size="27.5" text-anchor="middle" >MelanA</text>
<text x="0" y="0" font-size="24.3" text-anchor="middle" transform="translate(794.7,1505) rotate(-90)">relative expression</text>
<rect x="1204.6" y="1703.5" width="27.5" height="30" fill="#5f5f5f" stroke="#000" stroke-width="1.7"/>
<text x="1240.3" y="1724.2" font-size="23.6" >siRNA Ctrl</text>
<rect x="1389.4" y="1703.5" width="28.2" height="30" fill="#fff" stroke="#000" stroke-width="1.7"/>
<text x="1428" y="1724.2" font-size="23.6" >siRNA KDM5B</text>
</svg>
</body></html>
